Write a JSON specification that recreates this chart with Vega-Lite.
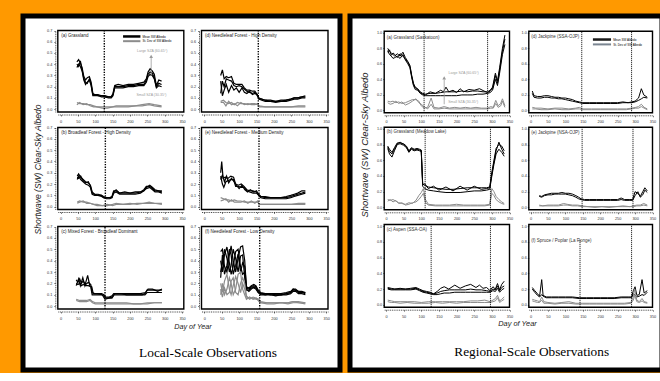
{
"$schema":"https://vega.github.io/schema/vega-lite/v6.json",
"background":"#ff9900",
"padding":{"left":20,"top":13,"right":0,"bottom":0},
"spacing":4,
"config":{
"axis":{"labelFont":"Liberation Sans","labelFontSize":3.8,"labelColor":"#333","tickSize":1.5,"tickWidth":0.5,"tickColor":"#000","domainColor":"#000","domainWidth":0.7,"domainDash":[1,0.8],"grid":false,"labelOverlap":false,"labelFlush":false,"titleFont":"Liberation Sans","titleFontStyle":"italic","titleFontWeight":"normal","titleColor":"#222","titlePadding":0},
"axisX":{"labelPadding":3},
"axisY":{"labelPadding":2},
"text":{"font":"Liberation Sans"},
"view":{"stroke":null}
},
"datasets":{
"La":[
{"s":"m1","d":47,"v":0.42},{"s":"m1","d":52,"v":0.44},{"s":"m1","d":57,"v":0.41},{"s":"m1","d":62,"v":0.37},{"s":"m1","d":67,"v":0.29},{"s":"m1","d":72,"v":0.26},{"s":"m1","d":77,"v":0.28},{"s":"m1","d":83,"v":0.29},{"s":"m1","d":88,"v":0.24},{"s":"m1","d":93,"v":0.14},{"s":"m1","d":98,"v":0.13},{"s":"m1","d":108,"v":0.13},{"s":"m1","d":118,"v":0.12},{"s":"m1","d":128,"v":0.12},{"s":"m1","d":138,"v":0.11},{"s":"m1","d":146,"v":0.11},{"s":"m1","d":151,"v":0.14},{"s":"m1","d":156,"v":0.21},{"s":"m1","d":166,"v":0.22},{"s":"m1","d":180,"v":0.21},{"s":"m1","d":195,"v":0.22},{"s":"m1","d":210,"v":0.22},{"s":"m1","d":225,"v":0.23},{"s":"m1","d":240,"v":0.24},{"s":"m1","d":247,"v":0.27},{"s":"m1","d":252,"v":0.33},{"s":"m1","d":258,"v":0.36},{"s":"m1","d":264,"v":0.34},{"s":"m1","d":270,"v":0.31},{"s":"m1","d":276,"v":0.21},{"s":"m1","d":283,"v":0.26},{"s":"m1","d":291,"v":0.25},
{"s":"m2","d":47,"v":0.37},{"s":"m2","d":52,"v":0.40},{"s":"m2","d":57,"v":0.38},{"s":"m2","d":62,"v":0.34},{"s":"m2","d":67,"v":0.26},{"s":"m2","d":72,"v":0.22},{"s":"m2","d":77,"v":0.24},{"s":"m2","d":83,"v":0.26},{"s":"m2","d":88,"v":0.21},{"s":"m2","d":93,"v":0.12},{"s":"m2","d":98,"v":0.12},{"s":"m2","d":108,"v":0.12},{"s":"m2","d":118,"v":0.11},{"s":"m2","d":128,"v":0.11},{"s":"m2","d":138,"v":0.10},{"s":"m2","d":146,"v":0.10},{"s":"m2","d":151,"v":0.12},{"s":"m2","d":156,"v":0.19},{"s":"m2","d":166,"v":0.19},{"s":"m2","d":180,"v":0.19},{"s":"m2","d":195,"v":0.20},{"s":"m2","d":210,"v":0.20},{"s":"m2","d":225,"v":0.21},{"s":"m2","d":240,"v":0.21},{"s":"m2","d":247,"v":0.24},{"s":"m2","d":252,"v":0.29},{"s":"m2","d":258,"v":0.31},{"s":"m2","d":264,"v":0.30},{"s":"m2","d":270,"v":0.27},{"s":"m2","d":276,"v":0.19},{"s":"m2","d":283,"v":0.21},{"s":"m2","d":291,"v":0.20},
{"s":"m3","d":47,"v":0.40},{"s":"m3","d":52,"v":0.38},{"s":"m3","d":57,"v":0.43},{"s":"m3","d":62,"v":0.35},{"s":"m3","d":67,"v":0.27},{"s":"m3","d":72,"v":0.24},{"s":"m3","d":77,"v":0.23},{"s":"m3","d":83,"v":0.27},{"s":"m3","d":88,"v":0.22},{"s":"m3","d":93,"v":0.13},{"s":"m3","d":98,"v":0.13},{"s":"m3","d":108,"v":0.12},{"s":"m3","d":118,"v":0.12},{"s":"m3","d":128,"v":0.11},{"s":"m3","d":138,"v":0.11},{"s":"m3","d":146,"v":0.11},{"s":"m3","d":151,"v":0.13},{"s":"m3","d":156,"v":0.20},{"s":"m3","d":166,"v":0.20},{"s":"m3","d":180,"v":0.20},{"s":"m3","d":195,"v":0.21},{"s":"m3","d":210,"v":0.21},{"s":"m3","d":225,"v":0.22},{"s":"m3","d":240,"v":0.22},{"s":"m3","d":247,"v":0.26},{"s":"m3","d":252,"v":0.31},{"s":"m3","d":258,"v":0.33},{"s":"m3","d":264,"v":0.32},{"s":"m3","d":270,"v":0.28},{"s":"m3","d":276,"v":0.20},{"s":"m3","d":283,"v":0.23},{"s":"m3","d":291,"v":0.22},
{"s":"s1","d":47,"v":0.06},{"s":"s1","d":55,"v":0.05},{"s":"s1","d":65,"v":0.05},{"s":"s1","d":75,"v":0.04},{"s":"s1","d":85,"v":0.04},{"s":"s1","d":95,"v":0.03},{"s":"s1","d":105,"v":0.02},{"s":"s1","d":120,"v":0.02},{"s":"s1","d":135,"v":0.02},{"s":"s1","d":150,"v":0.02},{"s":"s1","d":160,"v":0.03},{"s":"s1","d":175,"v":0.03},{"s":"s1","d":195,"v":0.03},{"s":"s1","d":215,"v":0.03},{"s":"s1","d":235,"v":0.04},{"s":"s1","d":255,"v":0.05},{"s":"s1","d":270,"v":0.04},{"s":"s1","d":291,"v":0.03},
{"s":"s2","d":47,"v":0.04},{"s":"s2","d":55,"v":0.06},{"s":"s2","d":65,"v":0.04},{"s":"s2","d":75,"v":0.05},{"s":"s2","d":85,"v":0.03},{"s":"s2","d":95,"v":0.02},{"s":"s2","d":105,"v":0.02},{"s":"s2","d":120,"v":0.01},{"s":"s2","d":135,"v":0.01},{"s":"s2","d":150,"v":0.02},{"s":"s2","d":160,"v":0.02},{"s":"s2","d":175,"v":0.02},{"s":"s2","d":195,"v":0.02},{"s":"s2","d":215,"v":0.03},{"s":"s2","d":235,"v":0.03},{"s":"s2","d":255,"v":0.04},{"s":"s2","d":270,"v":0.03},{"s":"s2","d":291,"v":0.02}
],
"Lb":[
{"s":"m1","d":48,"v":0.27},{"s":"m1","d":52,"v":0.29},{"s":"m1","d":58,"v":0.26},{"s":"m1","d":65,"v":0.24},{"s":"m1","d":72,"v":0.22},{"s":"m1","d":80,"v":0.21},{"s":"m1","d":86,"v":0.19},{"s":"m1","d":91,"v":0.13},{"s":"m1","d":98,"v":0.11},{"s":"m1","d":108,"v":0.11},{"s":"m1","d":118,"v":0.10},{"s":"m1","d":124,"v":0.09},{"s":"m1","d":132,"v":0.08},{"s":"m1","d":142,"v":0.08},{"s":"m1","d":148,"v":0.09},{"s":"m1","d":153,"v":0.14},{"s":"m1","d":160,"v":0.14},{"s":"m1","d":170,"v":0.12},{"s":"m1","d":185,"v":0.12},{"s":"m1","d":200,"v":0.12},{"s":"m1","d":215,"v":0.12},{"s":"m1","d":230,"v":0.13},{"s":"m1","d":240,"v":0.15},{"s":"m1","d":247,"v":0.18},{"s":"m1","d":257,"v":0.18},{"s":"m1","d":265,"v":0.16},{"s":"m1","d":272,"v":0.14},{"s":"m1","d":282,"v":0.14},{"s":"m1","d":292,"v":0.13},
{"s":"m2","d":48,"v":0.24},{"s":"m2","d":52,"v":0.27},{"s":"m2","d":58,"v":0.24},{"s":"m2","d":65,"v":0.22},{"s":"m2","d":72,"v":0.20},{"s":"m2","d":80,"v":0.19},{"s":"m2","d":86,"v":0.17},{"s":"m2","d":91,"v":0.11},{"s":"m2","d":98,"v":0.10},{"s":"m2","d":108,"v":0.10},{"s":"m2","d":118,"v":0.09},{"s":"m2","d":124,"v":0.08},{"s":"m2","d":132,"v":0.07},{"s":"m2","d":142,"v":0.07},{"s":"m2","d":148,"v":0.08},{"s":"m2","d":153,"v":0.12},{"s":"m2","d":160,"v":0.13},{"s":"m2","d":170,"v":0.11},{"s":"m2","d":185,"v":0.11},{"s":"m2","d":200,"v":0.11},{"s":"m2","d":215,"v":0.11},{"s":"m2","d":230,"v":0.12},{"s":"m2","d":240,"v":0.14},{"s":"m2","d":247,"v":0.16},{"s":"m2","d":257,"v":0.17},{"s":"m2","d":265,"v":0.15},{"s":"m2","d":272,"v":0.13},{"s":"m2","d":282,"v":0.13},{"s":"m2","d":292,"v":0.12},
{"s":"m3","d":48,"v":0.26},{"s":"m3","d":52,"v":0.25},{"s":"m3","d":58,"v":0.27},{"s":"m3","d":65,"v":0.23},{"s":"m3","d":72,"v":0.21},{"s":"m3","d":80,"v":0.22},{"s":"m3","d":86,"v":0.18},{"s":"m3","d":91,"v":0.12},{"s":"m3","d":98,"v":0.11},{"s":"m3","d":108,"v":0.10},{"s":"m3","d":118,"v":0.10},{"s":"m3","d":124,"v":0.08},{"s":"m3","d":132,"v":0.08},{"s":"m3","d":142,"v":0.08},{"s":"m3","d":148,"v":0.08},{"s":"m3","d":153,"v":0.13},{"s":"m3","d":160,"v":0.15},{"s":"m3","d":170,"v":0.12},{"s":"m3","d":185,"v":0.13},{"s":"m3","d":200,"v":0.12},{"s":"m3","d":215,"v":0.13},{"s":"m3","d":230,"v":0.13},{"s":"m3","d":240,"v":0.14},{"s":"m3","d":247,"v":0.17},{"s":"m3","d":257,"v":0.19},{"s":"m3","d":265,"v":0.17},{"s":"m3","d":272,"v":0.15},{"s":"m3","d":282,"v":0.14},{"s":"m3","d":292,"v":0.14},
{"s":"s1","d":48,"v":0.04},{"s":"s1","d":55,"v":0.05},{"s":"s1","d":65,"v":0.04},{"s":"s1","d":75,"v":0.04},{"s":"s1","d":85,"v":0.03},{"s":"s1","d":95,"v":0.02},{"s":"s1","d":105,"v":0.02},{"s":"s1","d":120,"v":0.01},{"s":"s1","d":135,"v":0.01},{"s":"s1","d":150,"v":0.02},{"s":"s1","d":160,"v":0.03},{"s":"s1","d":180,"v":0.02},{"s":"s1","d":200,"v":0.02},{"s":"s1","d":220,"v":0.03},{"s":"s1","d":240,"v":0.03},{"s":"s1","d":255,"v":0.04},{"s":"s1","d":270,"v":0.03},{"s":"s1","d":292,"v":0.02},
{"s":"s2","d":48,"v":0.03},{"s":"s2","d":55,"v":0.04},{"s":"s2","d":65,"v":0.05},{"s":"s2","d":75,"v":0.03},{"s":"s2","d":85,"v":0.03},{"s":"s2","d":95,"v":0.02},{"s":"s2","d":105,"v":0.01},{"s":"s2","d":120,"v":0.01},{"s":"s2","d":135,"v":0.02},{"s":"s2","d":150,"v":0.01},{"s":"s2","d":160,"v":0.02},{"s":"s2","d":180,"v":0.02},{"s":"s2","d":200,"v":0.03},{"s":"s2","d":220,"v":0.02},{"s":"s2","d":240,"v":0.03},{"s":"s2","d":255,"v":0.03},{"s":"s2","d":270,"v":0.03},{"s":"s2","d":292,"v":0.03}
],
"Lc":[
{"s":"m1","d":45,"v":0.23},{"s":"m1","d":50,"v":0.21},{"s":"m1","d":55,"v":0.24},{"s":"m1","d":60,"v":0.20},{"s":"m1","d":65,"v":0.22},{"s":"m1","d":72,"v":0.19},{"s":"m1","d":80,"v":0.21},{"s":"m1","d":87,"v":0.19},{"s":"m1","d":91,"v":0.12},{"s":"m1","d":98,"v":0.11},{"s":"m1","d":108,"v":0.11},{"s":"m1","d":118,"v":0.11},{"s":"m1","d":125,"v":0.10},{"s":"m1","d":130,"v":0.08},{"s":"m1","d":140,"v":0.08},{"s":"m1","d":148,"v":0.09},{"s":"m1","d":153,"v":0.11},{"s":"m1","d":162,"v":0.11},{"s":"m1","d":175,"v":0.11},{"s":"m1","d":190,"v":0.10},{"s":"m1","d":205,"v":0.10},{"s":"m1","d":220,"v":0.10},{"s":"m1","d":235,"v":0.10},{"s":"m1","d":243,"v":0.11},{"s":"m1","d":249,"v":0.14},{"s":"m1","d":258,"v":0.14},{"s":"m1","d":270,"v":0.14},{"s":"m1","d":280,"v":0.14},{"s":"m1","d":292,"v":0.14},
{"s":"m2","d":45,"v":0.20},{"s":"m2","d":50,"v":0.19},{"s":"m2","d":55,"v":0.20},{"s":"m2","d":60,"v":0.18},{"s":"m2","d":65,"v":0.19},{"s":"m2","d":72,"v":0.18},{"s":"m2","d":80,"v":0.18},{"s":"m2","d":87,"v":0.17},{"s":"m2","d":91,"v":0.10},{"s":"m2","d":98,"v":0.10},{"s":"m2","d":108,"v":0.10},{"s":"m2","d":118,"v":0.10},{"s":"m2","d":125,"v":0.09},{"s":"m2","d":130,"v":0.07},{"s":"m2","d":140,"v":0.07},{"s":"m2","d":148,"v":0.07},{"s":"m2","d":153,"v":0.10},{"s":"m2","d":162,"v":0.10},{"s":"m2","d":175,"v":0.10},{"s":"m2","d":190,"v":0.10},{"s":"m2","d":205,"v":0.10},{"s":"m2","d":220,"v":0.10},{"s":"m2","d":235,"v":0.10},{"s":"m2","d":243,"v":0.10},{"s":"m2","d":249,"v":0.12},{"s":"m2","d":258,"v":0.12},{"s":"m2","d":270,"v":0.12},{"s":"m2","d":280,"v":0.12},{"s":"m2","d":292,"v":0.12},
{"s":"m3","d":45,"v":0.18},{"s":"m3","d":52,"v":0.24},{"s":"m3","d":57,"v":0.18},{"s":"m3","d":64,"v":0.25},{"s":"m3","d":70,"v":0.18},{"s":"m3","d":78,"v":0.27},{"s":"m3","d":84,"v":0.18},{"s":"m3","d":90,"v":0.17},{"s":"m3","d":94,"v":0.11},{"s":"m3","d":105,"v":0.11},{"s":"m3","d":120,"v":0.10},{"s":"m3","d":128,"v":0.06},{"s":"m3","d":138,"v":0.07},{"s":"m3","d":150,"v":0.08},{"s":"m3","d":156,"v":0.11},{"s":"m3","d":170,"v":0.11},{"s":"m3","d":190,"v":0.11},{"s":"m3","d":210,"v":0.11},{"s":"m3","d":230,"v":0.11},{"s":"m3","d":245,"v":0.12},{"s":"m3","d":252,"v":0.15},{"s":"m3","d":265,"v":0.15},{"s":"m3","d":280,"v":0.13},{"s":"m3","d":292,"v":0.15},
{"s":"s1","d":45,"v":0.06},{"s":"s1","d":55,"v":0.05},{"s":"s1","d":65,"v":0.05},{"s":"s1","d":75,"v":0.05},{"s":"s1","d":85,"v":0.06},{"s":"s1","d":92,"v":0.04},{"s":"s1","d":100,"v":0.03},{"s":"s1","d":115,"v":0.03},{"s":"s1","d":130,"v":0.03},{"s":"s1","d":150,"v":0.03},{"s":"s1","d":170,"v":0.03},{"s":"s1","d":190,"v":0.03},{"s":"s1","d":210,"v":0.02},{"s":"s1","d":230,"v":0.02},{"s":"s1","d":250,"v":0.03},{"s":"s1","d":270,"v":0.03},{"s":"s1","d":292,"v":0.03},
{"s":"s2","d":45,"v":0.05},{"s":"s2","d":55,"v":0.04},{"s":"s2","d":65,"v":0.04},{"s":"s2","d":75,"v":0.04},{"s":"s2","d":85,"v":0.05},{"s":"s2","d":92,"v":0.03},{"s":"s2","d":100,"v":0.02},{"s":"s2","d":115,"v":0.02},{"s":"s2","d":130,"v":0.02},{"s":"s2","d":150,"v":0.02},{"s":"s2","d":170,"v":0.02},{"s":"s2","d":190,"v":0.02},{"s":"s2","d":210,"v":0.02},{"s":"s2","d":230,"v":0.02},{"s":"s2","d":250,"v":0.02},{"s":"s2","d":270,"v":0.03},{"s":"s2","d":292,"v":0.03}
],
"Ld":[
{"s":"m1","d":47,"v":0.30},{"s":"m1","d":52,"v":0.35},{"s":"m1","d":57,"v":0.27},{"s":"m1","d":63,"v":0.29},{"s":"m1","d":70,"v":0.28},{"s":"m1","d":78,"v":0.29},{"s":"m1","d":85,"v":0.23},{"s":"m1","d":92,"v":0.22},{"s":"m1","d":100,"v":0.22},{"s":"m1","d":108,"v":0.22},{"s":"m1","d":115,"v":0.19},{"s":"m1","d":122,"v":0.17},{"s":"m1","d":130,"v":0.17},{"s":"m1","d":138,"v":0.16},{"s":"m1","d":145,"v":0.16},{"s":"m1","d":152,"v":0.13},{"s":"m1","d":157,"v":0.10},{"s":"m1","d":165,"v":0.09},{"s":"m1","d":175,"v":0.08},{"s":"m1","d":190,"v":0.07},{"s":"m1","d":205,"v":0.07},{"s":"m1","d":220,"v":0.07},{"s":"m1","d":235,"v":0.08},{"s":"m1","d":248,"v":0.09},{"s":"m1","d":258,"v":0.10},{"s":"m1","d":268,"v":0.10},{"s":"m1","d":280,"v":0.11},{"s":"m1","d":290,"v":0.11},
{"s":"m2","d":47,"v":0.14},{"s":"m2","d":52,"v":0.25},{"s":"m2","d":57,"v":0.20},{"s":"m2","d":63,"v":0.27},{"s":"m2","d":70,"v":0.26},{"s":"m2","d":78,"v":0.25},{"s":"m2","d":85,"v":0.21},{"s":"m2","d":92,"v":0.20},{"s":"m2","d":100,"v":0.21},{"s":"m2","d":108,"v":0.20},{"s":"m2","d":115,"v":0.18},{"s":"m2","d":122,"v":0.16},{"s":"m2","d":130,"v":0.15},{"s":"m2","d":138,"v":0.14},{"s":"m2","d":145,"v":0.15},{"s":"m2","d":152,"v":0.12},{"s":"m2","d":157,"v":0.09},{"s":"m2","d":165,"v":0.08},{"s":"m2","d":175,"v":0.07},{"s":"m2","d":190,"v":0.07},{"s":"m2","d":205,"v":0.06},{"s":"m2","d":220,"v":0.07},{"s":"m2","d":235,"v":0.07},{"s":"m2","d":248,"v":0.08},{"s":"m2","d":258,"v":0.09},{"s":"m2","d":268,"v":0.09},{"s":"m2","d":280,"v":0.10},{"s":"m2","d":290,"v":0.10},
{"s":"m3","d":47,"v":0.25},{"s":"m3","d":52,"v":0.12},{"s":"m3","d":57,"v":0.17},{"s":"m3","d":63,"v":0.22},{"s":"m3","d":70,"v":0.15},{"s":"m3","d":78,"v":0.21},{"s":"m3","d":85,"v":0.17},{"s":"m3","d":92,"v":0.19},{"s":"m3","d":100,"v":0.15},{"s":"m3","d":108,"v":0.19},{"s":"m3","d":115,"v":0.15},{"s":"m3","d":122,"v":0.14},{"s":"m3","d":130,"v":0.16},{"s":"m3","d":138,"v":0.13},{"s":"m3","d":145,"v":0.14},{"s":"m3","d":152,"v":0.13},{"s":"m3","d":157,"v":0.09},{"s":"m3","d":165,"v":0.09},{"s":"m3","d":175,"v":0.08},{"s":"m3","d":190,"v":0.08},{"s":"m3","d":205,"v":0.07},{"s":"m3","d":220,"v":0.08},{"s":"m3","d":235,"v":0.08},{"s":"m3","d":248,"v":0.09},{"s":"m3","d":258,"v":0.10},{"s":"m3","d":268,"v":0.10},{"s":"m3","d":280,"v":0.11},{"s":"m3","d":290,"v":0.12},
{"s":"s1","d":47,"v":0.07},{"s":"s1","d":55,"v":0.08},{"s":"s1","d":62,"v":0.06},{"s":"s1","d":70,"v":0.05},{"s":"s1","d":78,"v":0.06},{"s":"s1","d":86,"v":0.04},{"s":"s1","d":95,"v":0.06},{"s":"s1","d":105,"v":0.05},{"s":"s1","d":115,"v":0.05},{"s":"s1","d":125,"v":0.04},{"s":"s1","d":135,"v":0.05},{"s":"s1","d":145,"v":0.05},{"s":"s1","d":153,"v":0.04},{"s":"s1","d":158,"v":0.03},{"s":"s1","d":175,"v":0.02},{"s":"s1","d":200,"v":0.02},{"s":"s1","d":225,"v":0.02},{"s":"s1","d":250,"v":0.02},{"s":"s1","d":270,"v":0.03},{"s":"s1","d":290,"v":0.03},
{"s":"s2","d":47,"v":0.06},{"s":"s2","d":55,"v":0.06},{"s":"s2","d":62,"v":0.03},{"s":"s2","d":70,"v":0.07},{"s":"s2","d":78,"v":0.04},{"s":"s2","d":86,"v":0.05},{"s":"s2","d":95,"v":0.03},{"s":"s2","d":105,"v":0.06},{"s":"s2","d":115,"v":0.04},{"s":"s2","d":125,"v":0.05},{"s":"s2","d":135,"v":0.04},{"s":"s2","d":145,"v":0.04},{"s":"s2","d":153,"v":0.05},{"s":"s2","d":158,"v":0.02},{"s":"s2","d":175,"v":0.02},{"s":"s2","d":200,"v":0.02},{"s":"s2","d":225,"v":0.02},{"s":"s2","d":250,"v":0.02},{"s":"s2","d":270,"v":0.02},{"s":"s2","d":290,"v":0.02}
],
"Le":[
{"s":"m1","d":47,"v":0.30},{"s":"m1","d":50,"v":0.40},{"s":"m1","d":54,"v":0.25},{"s":"m1","d":60,"v":0.26},{"s":"m1","d":68,"v":0.25},{"s":"m1","d":76,"v":0.27},{"s":"m1","d":84,"v":0.26},{"s":"m1","d":90,"v":0.20},{"s":"m1","d":98,"v":0.19},{"s":"m1","d":106,"v":0.20},{"s":"m1","d":114,"v":0.18},{"s":"m1","d":122,"v":0.15},{"s":"m1","d":130,"v":0.14},{"s":"m1","d":140,"v":0.14},{"s":"m1","d":150,"v":0.13},{"s":"m1","d":156,"v":0.11},{"s":"m1","d":162,"v":0.09},{"s":"m1","d":175,"v":0.08},{"s":"m1","d":190,"v":0.08},{"s":"m1","d":205,"v":0.08},{"s":"m1","d":220,"v":0.08},{"s":"m1","d":235,"v":0.08},{"s":"m1","d":248,"v":0.09},{"s":"m1","d":258,"v":0.10},{"s":"m1","d":268,"v":0.11},{"s":"m1","d":280,"v":0.12},{"s":"m1","d":290,"v":0.13},
{"s":"m2","d":47,"v":0.27},{"s":"m2","d":52,"v":0.20},{"s":"m2","d":56,"v":0.17},{"s":"m2","d":62,"v":0.22},{"s":"m2","d":68,"v":0.23},{"s":"m2","d":76,"v":0.24},{"s":"m2","d":84,"v":0.24},{"s":"m2","d":90,"v":0.18},{"s":"m2","d":98,"v":0.18},{"s":"m2","d":106,"v":0.17},{"s":"m2","d":114,"v":0.17},{"s":"m2","d":122,"v":0.14},{"s":"m2","d":130,"v":0.13},{"s":"m2","d":140,"v":0.12},{"s":"m2","d":150,"v":0.12},{"s":"m2","d":156,"v":0.10},{"s":"m2","d":162,"v":0.08},{"s":"m2","d":175,"v":0.07},{"s":"m2","d":190,"v":0.07},{"s":"m2","d":205,"v":0.07},{"s":"m2","d":220,"v":0.07},{"s":"m2","d":235,"v":0.07},{"s":"m2","d":248,"v":0.08},{"s":"m2","d":258,"v":0.09},{"s":"m2","d":268,"v":0.10},{"s":"m2","d":280,"v":0.11},{"s":"m2","d":290,"v":0.12},
{"s":"m3","d":47,"v":0.24},{"s":"m3","d":52,"v":0.28},{"s":"m3","d":58,"v":0.22},{"s":"m3","d":64,"v":0.27},{"s":"m3","d":70,"v":0.21},{"s":"m3","d":78,"v":0.25},{"s":"m3","d":86,"v":0.22},{"s":"m3","d":92,"v":0.19},{"s":"m3","d":100,"v":0.16},{"s":"m3","d":108,"v":0.19},{"s":"m3","d":116,"v":0.15},{"s":"m3","d":124,"v":0.13},{"s":"m3","d":132,"v":0.15},{"s":"m3","d":142,"v":0.13},{"s":"m3","d":150,"v":0.14},{"s":"m3","d":156,"v":0.10},{"s":"m3","d":162,"v":0.09},{"s":"m3","d":175,"v":0.09},{"s":"m3","d":190,"v":0.08},{"s":"m3","d":205,"v":0.08},{"s":"m3","d":220,"v":0.08},{"s":"m3","d":235,"v":0.09},{"s":"m3","d":248,"v":0.10},{"s":"m3","d":258,"v":0.11},{"s":"m3","d":268,"v":0.12},{"s":"m3","d":280,"v":0.14},{"s":"m3","d":290,"v":0.14},
{"s":"s1","d":47,"v":0.08},{"s":"s1","d":55,"v":0.07},{"s":"s1","d":62,"v":0.06},{"s":"s1","d":70,"v":0.06},{"s":"s1","d":78,"v":0.05},{"s":"s1","d":86,"v":0.06},{"s":"s1","d":95,"v":0.05},{"s":"s1","d":105,"v":0.05},{"s":"s1","d":115,"v":0.04},{"s":"s1","d":125,"v":0.04},{"s":"s1","d":135,"v":0.04},{"s":"s1","d":145,"v":0.04},{"s":"s1","d":153,"v":0.04},{"s":"s1","d":158,"v":0.02},{"s":"s1","d":175,"v":0.02},{"s":"s1","d":200,"v":0.02},{"s":"s1","d":225,"v":0.02},{"s":"s1","d":250,"v":0.02},{"s":"s1","d":270,"v":0.03},{"s":"s1","d":290,"v":0.03},
{"s":"s2","d":47,"v":0.05},{"s":"s2","d":55,"v":0.06},{"s":"s2","d":62,"v":0.07},{"s":"s2","d":70,"v":0.04},{"s":"s2","d":78,"v":0.06},{"s":"s2","d":86,"v":0.04},{"s":"s2","d":95,"v":0.04},{"s":"s2","d":105,"v":0.04},{"s":"s2","d":115,"v":0.05},{"s":"s2","d":125,"v":0.03},{"s":"s2","d":135,"v":0.05},{"s":"s2","d":145,"v":0.03},{"s":"s2","d":153,"v":0.05},{"s":"s2","d":158,"v":0.02},{"s":"s2","d":175,"v":0.02},{"s":"s2","d":200,"v":0.02},{"s":"s2","d":225,"v":0.02},{"s":"s2","d":250,"v":0.02},{"s":"s2","d":270,"v":0.02},{"s":"s2","d":290,"v":0.02}
],
"Lf":[
{"s":"m1","d":47,"v":0.48},{"s":"m1","d":52,"v":0.50},{"s":"m1","d":58,"v":0.35},{"s":"m1","d":65,"v":0.30},{"s":"m1","d":72,"v":0.45},{"s":"m1","d":77,"v":0.53},{"s":"m1","d":83,"v":0.40},{"s":"m1","d":90,"v":0.30},{"s":"m1","d":97,"v":0.42},{"s":"m1","d":104,"v":0.52},{"s":"m1","d":110,"v":0.53},{"s":"m1","d":116,"v":0.40},{"s":"m1","d":121,"v":0.16},{"s":"m1","d":128,"v":0.15},{"s":"m1","d":135,"v":0.17},{"s":"m1","d":142,"v":0.18},{"s":"m1","d":148,"v":0.17},{"s":"m1","d":155,"v":0.13},{"s":"m1","d":162,"v":0.11},{"s":"m1","d":175,"v":0.11},{"s":"m1","d":190,"v":0.10},{"s":"m1","d":205,"v":0.10},{"s":"m1","d":220,"v":0.10},{"s":"m1","d":235,"v":0.11},{"s":"m1","d":248,"v":0.12},{"s":"m1","d":255,"v":0.14},{"s":"m1","d":262,"v":0.14},{"s":"m1","d":270,"v":0.12},{"s":"m1","d":280,"v":0.12},{"s":"m1","d":290,"v":0.11},
{"s":"m2","d":47,"v":0.40},{"s":"m2","d":52,"v":0.30},{"s":"m2","d":58,"v":0.45},{"s":"m2","d":65,"v":0.52},{"s":"m2","d":72,"v":0.38},{"s":"m2","d":77,"v":0.28},{"s":"m2","d":83,"v":0.35},{"s":"m2","d":90,"v":0.48},{"s":"m2","d":97,"v":0.50},{"s":"m2","d":104,"v":0.35},{"s":"m2","d":110,"v":0.28},{"s":"m2","d":116,"v":0.30},{"s":"m2","d":121,"v":0.14},{"s":"m2","d":128,"v":0.14},{"s":"m2","d":135,"v":0.16},{"s":"m2","d":142,"v":0.16},{"s":"m2","d":148,"v":0.15},{"s":"m2","d":155,"v":0.12},{"s":"m2","d":162,"v":0.10},{"s":"m2","d":175,"v":0.10},{"s":"m2","d":190,"v":0.10},{"s":"m2","d":205,"v":0.09},{"s":"m2","d":220,"v":0.10},{"s":"m2","d":235,"v":0.10},{"s":"m2","d":248,"v":0.11},{"s":"m2","d":255,"v":0.13},{"s":"m2","d":262,"v":0.13},{"s":"m2","d":270,"v":0.11},{"s":"m2","d":280,"v":0.11},{"s":"m2","d":290,"v":0.10},
{"s":"m3","d":47,"v":0.30},{"s":"m3","d":52,"v":0.38},{"s":"m3","d":58,"v":0.50},{"s":"m3","d":65,"v":0.42},{"s":"m3","d":72,"v":0.30},{"s":"m3","d":77,"v":0.36},{"s":"m3","d":83,"v":0.50},{"s":"m3","d":90,"v":0.42},{"s":"m3","d":97,"v":0.30},{"s":"m3","d":104,"v":0.44},{"s":"m3","d":110,"v":0.45},{"s":"m3","d":116,"v":0.25},{"s":"m3","d":121,"v":0.15},{"s":"m3","d":128,"v":0.13},{"s":"m3","d":135,"v":0.15},{"s":"m3","d":142,"v":0.17},{"s":"m3","d":148,"v":0.16},{"s":"m3","d":155,"v":0.12},{"s":"m3","d":162,"v":0.11},{"s":"m3","d":175,"v":0.10},{"s":"m3","d":190,"v":0.11},{"s":"m3","d":205,"v":0.10},{"s":"m3","d":220,"v":0.10},{"s":"m3","d":235,"v":0.11},{"s":"m3","d":248,"v":0.12},{"s":"m3","d":255,"v":0.15},{"s":"m3","d":262,"v":0.14},{"s":"m3","d":270,"v":0.13},{"s":"m3","d":280,"v":0.12},{"s":"m3","d":290,"v":0.12},
{"s":"m4","d":47,"v":0.25},{"s":"m4","d":52,"v":0.45},{"s":"m4","d":58,"v":0.28},{"s":"m4","d":65,"v":0.36},{"s":"m4","d":72,"v":0.50},{"s":"m4","d":77,"v":0.45},{"s":"m4","d":83,"v":0.28},{"s":"m4","d":90,"v":0.36},{"s":"m4","d":97,"v":0.46},{"s":"m4","d":104,"v":0.30},{"s":"m4","d":110,"v":0.38},{"s":"m4","d":116,"v":0.35},{"s":"m4","d":121,"v":0.17},{"s":"m4","d":128,"v":0.16},{"s":"m4","d":135,"v":0.18},{"s":"m4","d":142,"v":0.19},{"s":"m4","d":148,"v":0.18},{"s":"m4","d":155,"v":0.14},{"s":"m4","d":162,"v":0.12},{"s":"m4","d":175,"v":0.11},{"s":"m4","d":190,"v":0.11},{"s":"m4","d":205,"v":0.11},{"s":"m4","d":220,"v":0.11},{"s":"m4","d":235,"v":0.12},{"s":"m4","d":248,"v":0.13},{"s":"m4","d":255,"v":0.15},{"s":"m4","d":262,"v":0.15},{"s":"m4","d":270,"v":0.13},{"s":"m4","d":280,"v":0.13},{"s":"m4","d":290,"v":0.12},
{"s":"s1","d":47,"v":0.20},{"s":"s1","d":52,"v":0.12},{"s":"s1","d":58,"v":0.22},{"s":"s1","d":65,"v":0.28},{"s":"s1","d":72,"v":0.15},{"s":"s1","d":77,"v":0.10},{"s":"s1","d":83,"v":0.18},{"s":"s1","d":90,"v":0.26},{"s":"s1","d":97,"v":0.20},{"s":"s1","d":104,"v":0.12},{"s":"s1","d":110,"v":0.20},{"s":"s1","d":116,"v":0.15},{"s":"s1","d":121,"v":0.08},{"s":"s1","d":130,"v":0.07},{"s":"s1","d":140,"v":0.07},{"s":"s1","d":150,"v":0.06},{"s":"s1","d":157,"v":0.05},{"s":"s1","d":162,"v":0.03},{"s":"s1","d":180,"v":0.03},{"s":"s1","d":200,"v":0.03},{"s":"s1","d":220,"v":0.03},{"s":"s1","d":240,"v":0.03},{"s":"s1","d":255,"v":0.04},{"s":"s1","d":270,"v":0.03},{"s":"s1","d":290,"v":0.03},
{"s":"s2","d":47,"v":0.10},{"s":"s2","d":52,"v":0.20},{"s":"s2","d":58,"v":0.10},{"s":"s2","d":65,"v":0.15},{"s":"s2","d":72,"v":0.25},{"s":"s2","d":77,"v":0.20},{"s":"s2","d":83,"v":0.10},{"s":"s2","d":90,"v":0.15},{"s":"s2","d":97,"v":0.28},{"s":"s2","d":104,"v":0.30},{"s":"s2","d":110,"v":0.15},{"s":"s2","d":116,"v":0.10},{"s":"s2","d":121,"v":0.06},{"s":"s2","d":130,"v":0.08},{"s":"s2","d":140,"v":0.06},{"s":"s2","d":150,"v":0.07},{"s":"s2","d":157,"v":0.04},{"s":"s2","d":162,"v":0.03},{"s":"s2","d":180,"v":0.02},{"s":"s2","d":200,"v":0.02},{"s":"s2","d":220,"v":0.03},{"s":"s2","d":240,"v":0.02},{"s":"s2","d":255,"v":0.03},{"s":"s2","d":270,"v":0.03},{"s":"s2","d":290,"v":0.02},
{"s":"s3","d":47,"v":0.15},{"s":"s3","d":52,"v":0.08},{"s":"s3","d":58,"v":0.16},{"s":"s3","d":65,"v":0.10},{"s":"s3","d":72,"v":0.12},{"s":"s3","d":77,"v":0.22},{"s":"s3","d":83,"v":0.25},{"s":"s3","d":90,"v":0.12},{"s":"s3","d":97,"v":0.10},{"s":"s3","d":104,"v":0.20},{"s":"s3","d":110,"v":0.25},{"s":"s3","d":116,"v":0.20},{"s":"s3","d":121,"v":0.09},{"s":"s3","d":130,"v":0.06},{"s":"s3","d":140,"v":0.08},{"s":"s3","d":150,"v":0.07},{"s":"s3","d":157,"v":0.06},{"s":"s3","d":162,"v":0.04},{"s":"s3","d":180,"v":0.03},{"s":"s3","d":200,"v":0.03},{"s":"s3","d":220,"v":0.03},{"s":"s3","d":240,"v":0.03},{"s":"s3","d":255,"v":0.04},{"s":"s3","d":270,"v":0.04},{"s":"s3","d":290,"v":0.03}
],
"Ra":[
{"s":"m1","d":5,"v":0.80},{"s":"m1","d":10,"v":0.76},{"s":"m1","d":15,"v":0.74},{"s":"m1","d":20,"v":0.72},{"s":"m1","d":25,"v":0.70},{"s":"m1","d":32,"v":0.73},{"s":"m1","d":40,"v":0.70},{"s":"m1","d":48,"v":0.75},{"s":"m1","d":55,"v":0.68},{"s":"m1","d":62,"v":0.63},{"s":"m1","d":68,"v":0.58},{"s":"m1","d":73,"v":0.45},{"s":"m1","d":78,"v":0.35},{"s":"m1","d":83,"v":0.30},{"s":"m1","d":90,"v":0.28},{"s":"m1","d":97,"v":0.24},{"s":"m1","d":104,"v":0.22},{"s":"m1","d":112,"v":0.21},{"s":"m1","d":125,"v":0.22},{"s":"m1","d":140,"v":0.22},{"s":"m1","d":155,"v":0.23},{"s":"m1","d":170,"v":0.24},{"s":"m1","d":185,"v":0.24},{"s":"m1","d":200,"v":0.24},{"s":"m1","d":215,"v":0.25},{"s":"m1","d":230,"v":0.24},{"s":"m1","d":245,"v":0.25},{"s":"m1","d":260,"v":0.25},{"s":"m1","d":275,"v":0.24},{"s":"m1","d":288,"v":0.24},{"s":"m1","d":295,"v":0.26},{"s":"m1","d":302,"v":0.30},{"s":"m1","d":310,"v":0.48},{"s":"m1","d":316,"v":0.38},{"s":"m1","d":322,"v":0.55},{"s":"m1","d":330,"v":0.80},{"s":"m1","d":337,"v":0.97},
{"s":"m2","d":5,"v":0.77},{"s":"m2","d":10,"v":0.72},{"s":"m2","d":15,"v":0.70},{"s":"m2","d":20,"v":0.67},{"s":"m2","d":25,"v":0.68},{"s":"m2","d":32,"v":0.70},{"s":"m2","d":40,"v":0.67},{"s":"m2","d":48,"v":0.72},{"s":"m2","d":55,"v":0.65},{"s":"m2","d":62,"v":0.60},{"s":"m2","d":68,"v":0.55},{"s":"m2","d":73,"v":0.42},{"s":"m2","d":78,"v":0.32},{"s":"m2","d":83,"v":0.27},{"s":"m2","d":90,"v":0.26},{"s":"m2","d":97,"v":0.22},{"s":"m2","d":104,"v":0.20},{"s":"m2","d":112,"v":0.19},{"s":"m2","d":125,"v":0.19},{"s":"m2","d":140,"v":0.19},{"s":"m2","d":155,"v":0.19},{"s":"m2","d":170,"v":0.19},{"s":"m2","d":185,"v":0.19},{"s":"m2","d":200,"v":0.19},{"s":"m2","d":215,"v":0.20},{"s":"m2","d":230,"v":0.20},{"s":"m2","d":245,"v":0.20},{"s":"m2","d":260,"v":0.21},{"s":"m2","d":275,"v":0.21},{"s":"m2","d":288,"v":0.22},{"s":"m2","d":295,"v":0.23},{"s":"m2","d":302,"v":0.26},{"s":"m2","d":310,"v":0.40},{"s":"m2","d":316,"v":0.32},{"s":"m2","d":322,"v":0.48},{"s":"m2","d":330,"v":0.72},{"s":"m2","d":337,"v":0.85},
{"s":"m3","d":5,"v":0.75},{"s":"m3","d":10,"v":0.78},{"s":"m3","d":15,"v":0.71},{"s":"m3","d":20,"v":0.74},{"s":"m3","d":25,"v":0.72},{"s":"m3","d":32,"v":0.68},{"s":"m3","d":40,"v":0.73},{"s":"m3","d":48,"v":0.70},{"s":"m3","d":55,"v":0.66},{"s":"m3","d":62,"v":0.62},{"s":"m3","d":68,"v":0.56},{"s":"m3","d":73,"v":0.44},{"s":"m3","d":78,"v":0.33},{"s":"m3","d":83,"v":0.29},{"s":"m3","d":90,"v":0.27},{"s":"m3","d":97,"v":0.23},{"s":"m3","d":104,"v":0.21},{"s":"m3","d":112,"v":0.20},{"s":"m3","d":125,"v":0.24},{"s":"m3","d":140,"v":0.22},{"s":"m3","d":155,"v":0.26},{"s":"m3","d":163,"v":0.24},{"s":"m3","d":170,"v":0.30},{"s":"m3","d":178,"v":0.24},{"s":"m3","d":190,"v":0.26},{"s":"m3","d":200,"v":0.23},{"s":"m3","d":210,"v":0.28},{"s":"m3","d":220,"v":0.24},{"s":"m3","d":235,"v":0.27},{"s":"m3","d":250,"v":0.26},{"s":"m3","d":265,"v":0.28},{"s":"m3","d":278,"v":0.25},{"s":"m3","d":288,"v":0.23},{"s":"m3","d":295,"v":0.25},{"s":"m3","d":302,"v":0.28},{"s":"m3","d":310,"v":0.45},{"s":"m3","d":316,"v":0.35},{"s":"m3","d":322,"v":0.52},{"s":"m3","d":330,"v":0.76},{"s":"m3","d":337,"v":0.92},
{"s":"s1","d":5,"v":0.12},{"s":"s1","d":12,"v":0.11},{"s":"s1","d":20,"v":0.12},{"s":"s1","d":28,"v":0.10},{"s":"s1","d":36,"v":0.11},{"s":"s1","d":45,"v":0.09},{"s":"s1","d":55,"v":0.10},{"s":"s1","d":65,"v":0.12},{"s":"s1","d":75,"v":0.14},{"s":"s1","d":85,"v":0.14},{"s":"s1","d":93,"v":0.12},{"s":"s1","d":100,"v":0.06},{"s":"s1","d":108,"v":0.03},{"s":"s1","d":118,"v":0.04},{"s":"s1","d":128,"v":0.16},{"s":"s1","d":136,"v":0.04},{"s":"s1","d":150,"v":0.03},{"s":"s1","d":165,"v":0.05},{"s":"s1","d":180,"v":0.03},{"s":"s1","d":195,"v":0.04},{"s":"s1","d":210,"v":0.03},{"s":"s1","d":225,"v":0.04},{"s":"s1","d":240,"v":0.03},{"s":"s1","d":255,"v":0.04},{"s":"s1","d":270,"v":0.03},{"s":"s1","d":288,"v":0.03},{"s":"s1","d":297,"v":0.05},{"s":"s1","d":304,"v":0.04},{"s":"s1","d":311,"v":0.13},{"s":"s1","d":318,"v":0.06},{"s":"s1","d":325,"v":0.09},{"s":"s1","d":330,"v":0.15},{"s":"s1","d":337,"v":0.06},
{"s":"s2","d":5,"v":0.10},{"s":"s2","d":12,"v":0.08},{"s":"s2","d":20,"v":0.09},{"s":"s2","d":28,"v":0.12},{"s":"s2","d":36,"v":0.09},{"s":"s2","d":45,"v":0.11},{"s":"s2","d":55,"v":0.07},{"s":"s2","d":65,"v":0.09},{"s":"s2","d":75,"v":0.12},{"s":"s2","d":85,"v":0.15},{"s":"s2","d":93,"v":0.10},{"s":"s2","d":100,"v":0.08},{"s":"s2","d":108,"v":0.05},{"s":"s2","d":118,"v":0.02},{"s":"s2","d":128,"v":0.08},{"s":"s2","d":136,"v":0.02},{"s":"s2","d":150,"v":0.02},{"s":"s2","d":165,"v":0.03},{"s":"s2","d":180,"v":0.02},{"s":"s2","d":195,"v":0.02},{"s":"s2","d":210,"v":0.02},{"s":"s2","d":225,"v":0.02},{"s":"s2","d":240,"v":0.02},{"s":"s2","d":255,"v":0.02},{"s":"s2","d":270,"v":0.02},{"s":"s2","d":288,"v":0.02},{"s":"s2","d":297,"v":0.03},{"s":"s2","d":304,"v":0.03},{"s":"s2","d":311,"v":0.09},{"s":"s2","d":318,"v":0.04},{"s":"s2","d":325,"v":0.06},{"s":"s2","d":330,"v":0.12},{"s":"s2","d":337,"v":0.04}
],
"Rb":[
{"s":"m1","d":5,"v":0.78},{"s":"m1","d":10,"v":0.74},{"s":"m1","d":17,"v":0.70},{"s":"m1","d":24,"v":0.76},{"s":"m1","d":32,"v":0.82},{"s":"m1","d":40,"v":0.82},{"s":"m1","d":50,"v":0.81},{"s":"m1","d":58,"v":0.78},{"s":"m1","d":65,"v":0.72},{"s":"m1","d":72,"v":0.76},{"s":"m1","d":80,"v":0.74},{"s":"m1","d":88,"v":0.75},{"s":"m1","d":95,"v":0.74},{"s":"m1","d":100,"v":0.73},{"s":"m1","d":104,"v":0.30},{"s":"m1","d":110,"v":0.28},{"s":"m1","d":120,"v":0.26},{"s":"m1","d":135,"v":0.25},{"s":"m1","d":150,"v":0.24},{"s":"m1","d":170,"v":0.23},{"s":"m1","d":190,"v":0.23},{"s":"m1","d":210,"v":0.24},{"s":"m1","d":230,"v":0.25},{"s":"m1","d":250,"v":0.25},{"s":"m1","d":270,"v":0.25},{"s":"m1","d":285,"v":0.25},{"s":"m1","d":294,"v":0.26},{"s":"m1","d":300,"v":0.45},{"s":"m1","d":306,"v":0.60},{"s":"m1","d":312,"v":0.75},{"s":"m1","d":320,"v":0.80},{"s":"m1","d":328,"v":0.78},{"s":"m1","d":335,"v":0.72},
{"s":"m2","d":5,"v":0.75},{"s":"m2","d":10,"v":0.68},{"s":"m2","d":17,"v":0.64},{"s":"m2","d":24,"v":0.72},{"s":"m2","d":32,"v":0.80},{"s":"m2","d":40,"v":0.81},{"s":"m2","d":50,"v":0.79},{"s":"m2","d":58,"v":0.76},{"s":"m2","d":65,"v":0.70},{"s":"m2","d":72,"v":0.74},{"s":"m2","d":80,"v":0.72},{"s":"m2","d":88,"v":0.73},{"s":"m2","d":95,"v":0.72},{"s":"m2","d":100,"v":0.71},{"s":"m2","d":104,"v":0.27},{"s":"m2","d":110,"v":0.24},{"s":"m2","d":120,"v":0.22},{"s":"m2","d":135,"v":0.21},{"s":"m2","d":150,"v":0.20},{"s":"m2","d":170,"v":0.19},{"s":"m2","d":190,"v":0.19},{"s":"m2","d":210,"v":0.19},{"s":"m2","d":230,"v":0.20},{"s":"m2","d":250,"v":0.21},{"s":"m2","d":270,"v":0.21},{"s":"m2","d":285,"v":0.22},{"s":"m2","d":294,"v":0.23},{"s":"m2","d":300,"v":0.40},{"s":"m2","d":306,"v":0.55},{"s":"m2","d":312,"v":0.68},{"s":"m2","d":320,"v":0.74},{"s":"m2","d":328,"v":0.70},{"s":"m2","d":335,"v":0.65},
{"s":"m3","d":5,"v":0.77},{"s":"m3","d":10,"v":0.71},{"s":"m3","d":17,"v":0.68},{"s":"m3","d":24,"v":0.74},{"s":"m3","d":32,"v":0.81},{"s":"m3","d":40,"v":0.83},{"s":"m3","d":50,"v":0.80},{"s":"m3","d":58,"v":0.77},{"s":"m3","d":65,"v":0.71},{"s":"m3","d":72,"v":0.75},{"s":"m3","d":80,"v":0.73},{"s":"m3","d":88,"v":0.74},{"s":"m3","d":95,"v":0.73},{"s":"m3","d":100,"v":0.72},{"s":"m3","d":104,"v":0.29},{"s":"m3","d":110,"v":0.30},{"s":"m3","d":120,"v":0.24},{"s":"m3","d":135,"v":0.27},{"s":"m3","d":150,"v":0.22},{"s":"m3","d":170,"v":0.26},{"s":"m3","d":190,"v":0.21},{"s":"m3","d":210,"v":0.27},{"s":"m3","d":230,"v":0.22},{"s":"m3","d":250,"v":0.27},{"s":"m3","d":270,"v":0.23},{"s":"m3","d":285,"v":0.24},{"s":"m3","d":294,"v":0.25},{"s":"m3","d":300,"v":0.42},{"s":"m3","d":306,"v":0.58},{"s":"m3","d":312,"v":0.72},{"s":"m3","d":320,"v":0.83},{"s":"m3","d":328,"v":0.74},{"s":"m3","d":335,"v":0.68},
{"s":"s1","d":5,"v":0.10},{"s":"s1","d":12,"v":0.09},{"s":"s1","d":20,"v":0.10},{"s":"s1","d":28,"v":0.08},{"s":"s1","d":36,"v":0.06},{"s":"s1","d":45,"v":0.05},{"s":"s1","d":55,"v":0.04},{"s":"s1","d":65,"v":0.06},{"s":"s1","d":75,"v":0.05},{"s":"s1","d":85,"v":0.09},{"s":"s1","d":93,"v":0.15},{"s":"s1","d":100,"v":0.19},{"s":"s1","d":106,"v":0.24},{"s":"s1","d":112,"v":0.10},{"s":"s1","d":120,"v":0.04},{"s":"s1","d":140,"v":0.03},{"s":"s1","d":160,"v":0.03},{"s":"s1","d":180,"v":0.03},{"s":"s1","d":200,"v":0.04},{"s":"s1","d":220,"v":0.03},{"s":"s1","d":240,"v":0.03},{"s":"s1","d":260,"v":0.03},{"s":"s1","d":280,"v":0.03},{"s":"s1","d":294,"v":0.04},{"s":"s1","d":300,"v":0.24},{"s":"s1","d":306,"v":0.20},{"s":"s1","d":312,"v":0.14},{"s":"s1","d":320,"v":0.10},{"s":"s1","d":328,"v":0.07},{"s":"s1","d":335,"v":0.05},
{"s":"s2","d":5,"v":0.08},{"s":"s2","d":12,"v":0.10},{"s":"s2","d":20,"v":0.07},{"s":"s2","d":28,"v":0.09},{"s":"s2","d":36,"v":0.05},{"s":"s2","d":45,"v":0.06},{"s":"s2","d":55,"v":0.03},{"s":"s2","d":65,"v":0.04},{"s":"s2","d":75,"v":0.06},{"s":"s2","d":85,"v":0.07},{"s":"s2","d":93,"v":0.10},{"s":"s2","d":100,"v":0.14},{"s":"s2","d":106,"v":0.18},{"s":"s2","d":112,"v":0.06},{"s":"s2","d":120,"v":0.03},{"s":"s2","d":140,"v":0.02},{"s":"s2","d":160,"v":0.02},{"s":"s2","d":180,"v":0.02},{"s":"s2","d":200,"v":0.02},{"s":"s2","d":220,"v":0.02},{"s":"s2","d":240,"v":0.02},{"s":"s2","d":260,"v":0.02},{"s":"s2","d":280,"v":0.02},{"s":"s2","d":294,"v":0.03},{"s":"s2","d":300,"v":0.18},{"s":"s2","d":306,"v":0.15},{"s":"s2","d":312,"v":0.10},{"s":"s2","d":320,"v":0.07},{"s":"s2","d":328,"v":0.05},{"s":"s2","d":335,"v":0.04}
],
"Rc":[
{"s":"m1","d":5,"v":0.21},{"s":"m1","d":15,"v":0.20},{"s":"m1","d":25,"v":0.20},{"s":"m1","d":40,"v":0.20},{"s":"m1","d":55,"v":0.20},{"s":"m1","d":70,"v":0.20},{"s":"m1","d":85,"v":0.21},{"s":"m1","d":95,"v":0.19},{"s":"m1","d":105,"v":0.17},{"s":"m1","d":115,"v":0.16},{"s":"m1","d":125,"v":0.15},{"s":"m1","d":135,"v":0.14},{"s":"m1","d":145,"v":0.15},{"s":"m1","d":155,"v":0.17},{"s":"m1","d":165,"v":0.18},{"s":"m1","d":180,"v":0.19},{"s":"m1","d":195,"v":0.19},{"s":"m1","d":210,"v":0.19},{"s":"m1","d":225,"v":0.19},{"s":"m1","d":240,"v":0.20},{"s":"m1","d":255,"v":0.19},{"s":"m1","d":270,"v":0.19},{"s":"m1","d":285,"v":0.18},{"s":"m1","d":295,"v":0.17},{"s":"m1","d":303,"v":0.20},{"s":"m1","d":310,"v":0.19},{"s":"m1","d":316,"v":0.24},{"s":"m1","d":322,"v":0.18},{"s":"m1","d":328,"v":0.22},{"s":"m1","d":335,"v":0.24},
{"s":"m2","d":5,"v":0.20},{"s":"m2","d":15,"v":0.19},{"s":"m2","d":25,"v":0.19},{"s":"m2","d":40,"v":0.19},{"s":"m2","d":55,"v":0.19},{"s":"m2","d":70,"v":0.19},{"s":"m2","d":85,"v":0.20},{"s":"m2","d":95,"v":0.18},{"s":"m2","d":105,"v":0.16},{"s":"m2","d":115,"v":0.15},{"s":"m2","d":125,"v":0.14},{"s":"m2","d":135,"v":0.13},{"s":"m2","d":145,"v":0.13},{"s":"m2","d":155,"v":0.14},{"s":"m2","d":165,"v":0.15},{"s":"m2","d":180,"v":0.15},{"s":"m2","d":195,"v":0.16},{"s":"m2","d":210,"v":0.16},{"s":"m2","d":225,"v":0.16},{"s":"m2","d":240,"v":0.16},{"s":"m2","d":255,"v":0.16},{"s":"m2","d":270,"v":0.16},{"s":"m2","d":285,"v":0.16},{"s":"m2","d":295,"v":0.16},{"s":"m2","d":303,"v":0.18},{"s":"m2","d":310,"v":0.17},{"s":"m2","d":316,"v":0.21},{"s":"m2","d":322,"v":0.16},{"s":"m2","d":328,"v":0.19},{"s":"m2","d":335,"v":0.21},
{"s":"m3","d":5,"v":0.22},{"s":"m3","d":15,"v":0.21},{"s":"m3","d":25,"v":0.20},{"s":"m3","d":40,"v":0.21},{"s":"m3","d":55,"v":0.20},{"s":"m3","d":70,"v":0.21},{"s":"m3","d":85,"v":0.22},{"s":"m3","d":95,"v":0.20},{"s":"m3","d":105,"v":0.18},{"s":"m3","d":115,"v":0.17},{"s":"m3","d":125,"v":0.16},{"s":"m3","d":135,"v":0.14},{"s":"m3","d":145,"v":0.17},{"s":"m3","d":155,"v":0.21},{"s":"m3","d":165,"v":0.23},{"s":"m3","d":178,"v":0.20},{"s":"m3","d":195,"v":0.25},{"s":"m3","d":210,"v":0.21},{"s":"m3","d":225,"v":0.24},{"s":"m3","d":240,"v":0.26},{"s":"m3","d":255,"v":0.22},{"s":"m3","d":265,"v":0.25},{"s":"m3","d":275,"v":0.21},{"s":"m3","d":285,"v":0.22},{"s":"m3","d":295,"v":0.18},{"s":"m3","d":303,"v":0.23},{"s":"m3","d":310,"v":0.20},{"s":"m3","d":316,"v":0.27},{"s":"m3","d":322,"v":0.19},{"s":"m3","d":328,"v":0.26},{"s":"m3","d":335,"v":0.30},
{"s":"s1","d":5,"v":0.06},{"s":"s1","d":15,"v":0.05},{"s":"s1","d":25,"v":0.04},{"s":"s1","d":40,"v":0.04},{"s":"s1","d":60,"v":0.04},{"s":"s1","d":80,"v":0.04},{"s":"s1","d":100,"v":0.03},{"s":"s1","d":120,"v":0.04},{"s":"s1","d":140,"v":0.04},{"s":"s1","d":160,"v":0.04},{"s":"s1","d":180,"v":0.04},{"s":"s1","d":200,"v":0.04},{"s":"s1","d":220,"v":0.04},{"s":"s1","d":240,"v":0.05},{"s":"s1","d":260,"v":0.05},{"s":"s1","d":280,"v":0.06},{"s":"s1","d":295,"v":0.04},{"s":"s1","d":303,"v":0.06},{"s":"s1","d":310,"v":0.08},{"s":"s1","d":316,"v":0.12},{"s":"s1","d":322,"v":0.05},{"s":"s1","d":328,"v":0.07},{"s":"s1","d":335,"v":0.10},
{"s":"s2","d":5,"v":0.04},{"s":"s2","d":15,"v":0.03},{"s":"s2","d":25,"v":0.03},{"s":"s2","d":40,"v":0.02},{"s":"s2","d":60,"v":0.03},{"s":"s2","d":80,"v":0.02},{"s":"s2","d":100,"v":0.02},{"s":"s2","d":120,"v":0.02},{"s":"s2","d":140,"v":0.03},{"s":"s2","d":160,"v":0.02},{"s":"s2","d":180,"v":0.03},{"s":"s2","d":200,"v":0.02},{"s":"s2","d":220,"v":0.03},{"s":"s2","d":240,"v":0.03},{"s":"s2","d":260,"v":0.03},{"s":"s2","d":280,"v":0.03},{"s":"s2","d":295,"v":0.03},{"s":"s2","d":303,"v":0.04},{"s":"s2","d":310,"v":0.05},{"s":"s2","d":316,"v":0.09},{"s":"s2","d":322,"v":0.03},{"s":"s2","d":328,"v":0.05},{"s":"s2","d":335,"v":0.07}
],
"Rd":[
{"s":"m1","d":5,"v":0.25},{"s":"m1","d":10,"v":0.19},{"s":"m1","d":20,"v":0.18},{"s":"m1","d":30,"v":0.18},{"s":"m1","d":40,"v":0.19},{"s":"m1","d":50,"v":0.19},{"s":"m1","d":60,"v":0.18},{"s":"m1","d":70,"v":0.17},{"s":"m1","d":80,"v":0.17},{"s":"m1","d":90,"v":0.16},{"s":"m1","d":100,"v":0.16},{"s":"m1","d":110,"v":0.15},{"s":"m1","d":120,"v":0.14},{"s":"m1","d":130,"v":0.12},{"s":"m1","d":140,"v":0.11},{"s":"m1","d":150,"v":0.10},{"s":"m1","d":170,"v":0.10},{"s":"m1","d":190,"v":0.10},{"s":"m1","d":210,"v":0.10},{"s":"m1","d":230,"v":0.10},{"s":"m1","d":250,"v":0.10},{"s":"m1","d":265,"v":0.11},{"s":"m1","d":280,"v":0.10},{"s":"m1","d":290,"v":0.11},{"s":"m1","d":300,"v":0.12},{"s":"m1","d":310,"v":0.16},{"s":"m1","d":318,"v":0.28},{"s":"m1","d":325,"v":0.20},{"s":"m1","d":335,"v":0.17},
{"s":"m2","d":5,"v":0.22},{"s":"m2","d":10,"v":0.17},{"s":"m2","d":20,"v":0.16},{"s":"m2","d":30,"v":0.16},{"s":"m2","d":40,"v":0.17},{"s":"m2","d":50,"v":0.17},{"s":"m2","d":60,"v":0.16},{"s":"m2","d":70,"v":0.16},{"s":"m2","d":80,"v":0.15},{"s":"m2","d":90,"v":0.15},{"s":"m2","d":100,"v":0.14},{"s":"m2","d":110,"v":0.13},{"s":"m2","d":120,"v":0.12},{"s":"m2","d":130,"v":0.11},{"s":"m2","d":140,"v":0.10},{"s":"m2","d":150,"v":0.09},{"s":"m2","d":170,"v":0.09},{"s":"m2","d":190,"v":0.09},{"s":"m2","d":210,"v":0.09},{"s":"m2","d":230,"v":0.09},{"s":"m2","d":250,"v":0.09},{"s":"m2","d":265,"v":0.10},{"s":"m2","d":280,"v":0.10},{"s":"m2","d":290,"v":0.10},{"s":"m2","d":300,"v":0.11},{"s":"m2","d":310,"v":0.13},{"s":"m2","d":318,"v":0.15},{"s":"m2","d":325,"v":0.17},{"s":"m2","d":335,"v":0.16},
{"s":"s1","d":5,"v":0.04},{"s":"s1","d":15,"v":0.03},{"s":"s1","d":30,"v":0.03},{"s":"s1","d":50,"v":0.02},{"s":"s1","d":70,"v":0.03},{"s":"s1","d":90,"v":0.03},{"s":"s1","d":110,"v":0.02},{"s":"s1","d":130,"v":0.03},{"s":"s1","d":140,"v":0.04},{"s":"s1","d":150,"v":0.02},{"s":"s1","d":175,"v":0.02},{"s":"s1","d":200,"v":0.02},{"s":"s1","d":225,"v":0.02},{"s":"s1","d":250,"v":0.02},{"s":"s1","d":275,"v":0.02},{"s":"s1","d":290,"v":0.03},{"s":"s1","d":302,"v":0.04},{"s":"s1","d":310,"v":0.05},{"s":"s1","d":318,"v":0.08},{"s":"s1","d":326,"v":0.04},{"s":"s1","d":335,"v":0.02},
{"s":"s2","d":5,"v":0.02},{"s":"s2","d":15,"v":0.02},{"s":"s2","d":30,"v":0.01},{"s":"s2","d":50,"v":0.01},{"s":"s2","d":70,"v":0.02},{"s":"s2","d":90,"v":0.01},{"s":"s2","d":110,"v":0.01},{"s":"s2","d":130,"v":0.02},{"s":"s2","d":140,"v":0.02},{"s":"s2","d":150,"v":0.01},{"s":"s2","d":175,"v":0.01},{"s":"s2","d":200,"v":0.01},{"s":"s2","d":225,"v":0.01},{"s":"s2","d":250,"v":0.01},{"s":"s2","d":275,"v":0.01},{"s":"s2","d":290,"v":0.02},{"s":"s2","d":302,"v":0.03},{"s":"s2","d":310,"v":0.03},{"s":"s2","d":318,"v":0.05},{"s":"s2","d":326,"v":0.03},{"s":"s2","d":335,"v":0.01}
],
"Re":[
{"s":"m1","d":25,"v":0.15},{"s":"m1","d":32,"v":0.14},{"s":"m1","d":40,"v":0.16},{"s":"m1","d":50,"v":0.17},{"s":"m1","d":60,"v":0.18},{"s":"m1","d":70,"v":0.18},{"s":"m1","d":80,"v":0.18},{"s":"m1","d":90,"v":0.19},{"s":"m1","d":100,"v":0.18},{"s":"m1","d":110,"v":0.18},{"s":"m1","d":120,"v":0.17},{"s":"m1","d":130,"v":0.15},{"s":"m1","d":138,"v":0.13},{"s":"m1","d":145,"v":0.11},{"s":"m1","d":155,"v":0.10},{"s":"m1","d":170,"v":0.10},{"s":"m1","d":190,"v":0.10},{"s":"m1","d":210,"v":0.10},{"s":"m1","d":230,"v":0.10},{"s":"m1","d":250,"v":0.10},{"s":"m1","d":260,"v":0.12},{"s":"m1","d":270,"v":0.10},{"s":"m1","d":285,"v":0.10},{"s":"m1","d":293,"v":0.10},{"s":"m1","d":300,"v":0.20},{"s":"m1","d":308,"v":0.18},{"s":"m1","d":315,"v":0.14},{"s":"m1","d":322,"v":0.20},{"s":"m1","d":328,"v":0.25},{"s":"m1","d":335,"v":0.21},
{"s":"m2","d":25,"v":0.14},{"s":"m2","d":32,"v":0.13},{"s":"m2","d":40,"v":0.15},{"s":"m2","d":50,"v":0.16},{"s":"m2","d":60,"v":0.16},{"s":"m2","d":70,"v":0.17},{"s":"m2","d":80,"v":0.17},{"s":"m2","d":90,"v":0.17},{"s":"m2","d":100,"v":0.17},{"s":"m2","d":110,"v":0.16},{"s":"m2","d":120,"v":0.15},{"s":"m2","d":130,"v":0.13},{"s":"m2","d":138,"v":0.11},{"s":"m2","d":145,"v":0.10},{"s":"m2","d":155,"v":0.09},{"s":"m2","d":170,"v":0.09},{"s":"m2","d":190,"v":0.09},{"s":"m2","d":210,"v":0.09},{"s":"m2","d":230,"v":0.09},{"s":"m2","d":250,"v":0.09},{"s":"m2","d":260,"v":0.10},{"s":"m2","d":270,"v":0.09},{"s":"m2","d":285,"v":0.09},{"s":"m2","d":293,"v":0.09},{"s":"m2","d":300,"v":0.15},{"s":"m2","d":308,"v":0.20},{"s":"m2","d":315,"v":0.13},{"s":"m2","d":322,"v":0.16},{"s":"m2","d":328,"v":0.22},{"s":"m2","d":335,"v":0.19},
{"s":"s1","d":25,"v":0.03},{"s":"s1","d":35,"v":0.02},{"s":"s1","d":50,"v":0.03},{"s":"s1","d":65,"v":0.03},{"s":"s1","d":80,"v":0.03},{"s":"s1","d":95,"v":0.05},{"s":"s1","d":105,"v":0.04},{"s":"s1","d":120,"v":0.03},{"s":"s1","d":135,"v":0.03},{"s":"s1","d":148,"v":0.02},{"s":"s1","d":165,"v":0.01},{"s":"s1","d":185,"v":0.01},{"s":"s1","d":205,"v":0.01},{"s":"s1","d":225,"v":0.01},{"s":"s1","d":245,"v":0.01},{"s":"s1","d":265,"v":0.02},{"s":"s1","d":285,"v":0.01},{"s":"s1","d":295,"v":0.02},{"s":"s1","d":305,"v":0.03},{"s":"s1","d":315,"v":0.03},{"s":"s1","d":325,"v":0.05},{"s":"s1","d":335,"v":0.03},
{"s":"s2","d":25,"v":0.02},{"s":"s2","d":35,"v":0.02},{"s":"s2","d":50,"v":0.02},{"s":"s2","d":65,"v":0.02},{"s":"s2","d":80,"v":0.02},{"s":"s2","d":95,"v":0.03},{"s":"s2","d":105,"v":0.03},{"s":"s2","d":120,"v":0.02},{"s":"s2","d":135,"v":0.02},{"s":"s2","d":148,"v":0.01},{"s":"s2","d":165,"v":0.01},{"s":"s2","d":185,"v":0.00},{"s":"s2","d":205,"v":0.01},{"s":"s2","d":225,"v":0.00},{"s":"s2","d":245,"v":0.01},{"s":"s2","d":265,"v":0.01},{"s":"s2","d":285,"v":0.01},{"s":"s2","d":295,"v":0.01},{"s":"s2","d":305,"v":0.02},{"s":"s2","d":315,"v":0.02},{"s":"s2","d":325,"v":0.03},{"s":"s2","d":335,"v":0.02}
],
"Rf":[
{"s":"m1","d":5,"v":0.22},{"s":"m1","d":12,"v":0.18},{"s":"m1","d":20,"v":0.14},{"s":"m1","d":26,"v":0.11},{"s":"m1","d":32,"v":0.32},{"s":"m1","d":36,"v":0.12},{"s":"m1","d":45,"v":0.10},{"s":"m1","d":60,"v":0.10},{"s":"m1","d":80,"v":0.10},{"s":"m1","d":100,"v":0.10},{"s":"m1","d":120,"v":0.10},{"s":"m1","d":140,"v":0.09},{"s":"m1","d":160,"v":0.09},{"s":"m1","d":180,"v":0.09},{"s":"m1","d":200,"v":0.09},{"s":"m1","d":220,"v":0.09},{"s":"m1","d":240,"v":0.09},{"s":"m1","d":260,"v":0.10},{"s":"m1","d":280,"v":0.10},{"s":"m1","d":290,"v":0.10},{"s":"m1","d":295,"v":0.18},{"s":"m1","d":300,"v":0.23},{"s":"m1","d":305,"v":0.12},{"s":"m1","d":312,"v":0.13},{"s":"m1","d":320,"v":0.32},{"s":"m1","d":326,"v":0.15},{"s":"m1","d":335,"v":0.18},
{"s":"m2","d":5,"v":0.20},{"s":"m2","d":12,"v":0.16},{"s":"m2","d":20,"v":0.12},{"s":"m2","d":26,"v":0.10},{"s":"m2","d":32,"v":0.13},{"s":"m2","d":36,"v":0.11},{"s":"m2","d":45,"v":0.09},{"s":"m2","d":60,"v":0.09},{"s":"m2","d":80,"v":0.09},{"s":"m2","d":100,"v":0.09},{"s":"m2","d":120,"v":0.09},{"s":"m2","d":140,"v":0.08},{"s":"m2","d":160,"v":0.08},{"s":"m2","d":180,"v":0.08},{"s":"m2","d":200,"v":0.08},{"s":"m2","d":220,"v":0.08},{"s":"m2","d":240,"v":0.08},{"s":"m2","d":260,"v":0.09},{"s":"m2","d":280,"v":0.09},{"s":"m2","d":290,"v":0.09},{"s":"m2","d":295,"v":0.14},{"s":"m2","d":300,"v":0.12},{"s":"m2","d":305,"v":0.10},{"s":"m2","d":312,"v":0.11},{"s":"m2","d":320,"v":0.13},{"s":"m2","d":326,"v":0.12},{"s":"m2","d":335,"v":0.16},
{"s":"s1","d":5,"v":0.07},{"s":"s1","d":12,"v":0.06},{"s":"s1","d":20,"v":0.05},{"s":"s1","d":26,"v":0.04},{"s":"s1","d":32,"v":0.10},{"s":"s1","d":38,"v":0.04},{"s":"s1","d":50,"v":0.03},{"s":"s1","d":70,"v":0.02},{"s":"s1","d":90,"v":0.03},{"s":"s1","d":110,"v":0.04},{"s":"s1","d":130,"v":0.02},{"s":"s1","d":150,"v":0.02},{"s":"s1","d":170,"v":0.02},{"s":"s1","d":190,"v":0.02},{"s":"s1","d":210,"v":0.02},{"s":"s1","d":230,"v":0.02},{"s":"s1","d":250,"v":0.02},{"s":"s1","d":270,"v":0.02},{"s":"s1","d":288,"v":0.03},{"s":"s1","d":295,"v":0.10},{"s":"s1","d":299,"v":0.20},{"s":"s1","d":305,"v":0.06},{"s":"s1","d":312,"v":0.04},{"s":"s1","d":320,"v":0.08},{"s":"s1","d":326,"v":0.04},{"s":"s1","d":335,"v":0.03},
{"s":"s2","d":5,"v":0.05},{"s":"s2","d":12,"v":0.04},{"s":"s2","d":20,"v":0.03},{"s":"s2","d":26,"v":0.03},{"s":"s2","d":32,"v":0.06},{"s":"s2","d":38,"v":0.02},{"s":"s2","d":50,"v":0.02},{"s":"s2","d":70,"v":0.01},{"s":"s2","d":90,"v":0.02},{"s":"s2","d":110,"v":0.02},{"s":"s2","d":130,"v":0.01},{"s":"s2","d":150,"v":0.01},{"s":"s2","d":170,"v":0.01},{"s":"s2","d":190,"v":0.01},{"s":"s2","d":210,"v":0.01},{"s":"s2","d":230,"v":0.01},{"s":"s2","d":250,"v":0.01},{"s":"s2","d":270,"v":0.01},{"s":"s2","d":288,"v":0.02},{"s":"s2","d":295,"v":0.06},{"s":"s2","d":299,"v":0.12},{"s":"s2","d":305,"v":0.04},{"s":"s2","d":312,"v":0.03},{"s":"s2","d":320,"v":0.05},{"s":"s2","d":326,"v":0.03},{"s":"s2","d":335,"v":0.02}
]
},
"hconcat":[
{
"width":317,"height":354,
"view":{"fill":"white","stroke":"black","strokeWidth":5},
"resolve":{"scale":{"x":"independent","y":"independent"}},
"layer":[
{"data":{"name":"La"},"layer":[
{"mark":{"type":"line","strokeWidth":1.2},"encoding":{
"x":{"field":"d","type":"quantitative","scale":{"domain":[-8,355],"range":[34.8,160.8],"nice":false},"axis":{"orient":"bottom","offset":-255.5,"values":[0,50,100,150,200,250,300,350],"labelOverlap":false,"title":null}},
"y":{"field":"v","type":"quantitative","scale":{"domain":[-0.025,0.7],"range":[96,14.5],"nice":false},"axis":{"orient":"left","offset":-32.3,"values":[0,0.1,0.2,0.3,0.4,0.5,0.6,0.7],"format":".1f","labelOverlap":false,"title":null}},
"color":{"field":"s","type":"nominal","scale":{"domain":["m1","m2","m3","m4","s1","s2","s3"],"range":["#000","#000","#000","#000","#8c8c8c","#8c8c8c","#8c8c8c"]},"legend":null}}},
{"data":{"values":[{}]},"mark":{"type":"rect","filled":false,"stroke":"#000","strokeWidth":1.4},"encoding":{"x":{"datum":-8},"x2":{"datum":355},"y":{"datum":-0.025},"y2":{"datum":0.7}}},
{"data":{"values":[{"d":126}]},"mark":{"type":"rule","strokeDash":[1.3,1.3],"strokeWidth":1.4,"color":"#000"},"encoding":{"x":{"field":"d","type":"quantitative"},"y":{"datum":-0.025},"y2":{"datum":0.7}}},
{"data":{"values":[{}]},"mark":{"type":"text","text":"(a) Grassland","align":"left","baseline":"middle","fontSize":4.5,"color":"#222"},"encoding":{"x":{"datum":2},"y":{"datum":0.655}}},
{"data":{"values":[{}]},"mark":{"type":"rule","strokeWidth":2.5,"color":"#000"},"encoding":{"x":{"datum":180},"x2":{"datum":230},"y":{"datum":0.647}}},
{"data":{"values":[{}]},"mark":{"type":"rule","strokeWidth":2,"color":"#8c8c8c"},"encoding":{"x":{"datum":180},"x2":{"datum":230},"y":{"datum":0.605}}},
{"data":{"values":[{}]},"mark":{"type":"text","text":"Mean SW Albedo","align":"left","baseline":"middle","fontSize":3,"color":"#000"},"encoding":{"x":{"datum":236},"y":{"datum":0.647}}},
{"data":{"values":[{}]},"mark":{"type":"text","text":"St. Dev of SW Albedo","align":"left","baseline":"middle","fontSize":3,"color":"#000"},"encoding":{"x":{"datum":236},"y":{"datum":0.605}}},
{"data":{"values":[{}]},"mark":{"type":"text","text":"Large SZA (60-65°)","align":"center","baseline":"middle","fontSize":3.5,"color":"#9a9a9a"},"encoding":{"x":{"datum":264},"y":{"datum":0.522}}},
{"data":{"values":[{}]},"mark":{"type":"rule","strokeWidth":0.8,"color":"#9a9a9a"},"encoding":{"x":{"datum":261},"y":{"datum":0.30},"y2":{"datum":0.455}}},
{"data":{"values":[{}]},"mark":{"type":"point","shape":"triangle-up","filled":true,"size":14,"color":"#9a9a9a","opacity":1},"encoding":{"x":{"datum":261},"y":{"datum":0.47}}},
{"data":{"values":[{}]},"mark":{"type":"text","text":"Small SZA (30-35°)","align":"center","baseline":"middle","fontSize":3.5,"color":"#9a9a9a"},"encoding":{"x":{"datum":262},"y":{"datum":0.128}}}
]},
{"data":{"name":"Lb"},"layer":[
{"mark":{"type":"line","strokeWidth":1.2},"encoding":{
"x":{"field":"d","type":"quantitative","scale":{"domain":[-8,355],"range":[34.8,160.8],"nice":false},"axis":{"orient":"bottom","offset":-158,"values":[0,50,100,150,200,250,300,350],"labelOverlap":false,"title":null}},
"y":{"field":"v","type":"quantitative","scale":{"domain":[-0.025,0.7],"range":[193.5,111.5],"nice":false},"axis":{"orient":"left","offset":-32.3,"values":[0,0.1,0.2,0.3,0.4,0.5,0.6,0.7],"format":".1f","labelOverlap":false,"title":"Shortwave (SW) Clear-Sky Albedo","titleX":-17.8,"titleY":153,"titleAngle":-90,"titleAlign":"center","titleBaseline":"middle","titleFontSize":8.5}},
"color":{"field":"s","type":"nominal","scale":{"domain":["m1","m2","m3","m4","s1","s2","s3"],"range":["#000","#000","#000","#000","#8c8c8c","#8c8c8c","#8c8c8c"]},"legend":null}}},
{"data":{"values":[{}]},"mark":{"type":"rect","filled":false,"stroke":"#000","strokeWidth":1.4},"encoding":{"x":{"datum":-8},"x2":{"datum":355},"y":{"datum":-0.025},"y2":{"datum":0.7}}},
{"data":{"values":[{"d":129}]},"mark":{"type":"rule","strokeDash":[1.3,1.3],"strokeWidth":1.4,"color":"#000"},"encoding":{"x":{"field":"d","type":"quantitative"},"y":{"datum":-0.025},"y2":{"datum":0.7}}},
{"data":{"values":[{}]},"mark":{"type":"text","text":"(b) Broadleaf Forest - High Density","align":"left","baseline":"middle","fontSize":4.5,"color":"#222"},"encoding":{"x":{"datum":2},"y":{"datum":0.655}}}
]},
{"data":{"name":"Lc"},"layer":[
{"mark":{"type":"line","strokeWidth":1.2},"encoding":{
"x":{"field":"d","type":"quantitative","scale":{"domain":[-8,355],"range":[34.8,160.8],"nice":false},"axis":{"orient":"bottom","offset":-58.5,"values":[0,50,100,150,200,250,300,350],"labelOverlap":false,"title":"Day of Year","titleX":169.5,"titleY":15,"titleAlign":"center","titleBaseline":"middle","titleFontSize":7.2}},
"y":{"field":"v","type":"quantitative","scale":{"domain":[-0.025,0.7],"range":[293,210.5],"nice":false},"axis":{"orient":"left","offset":-32.3,"values":[0,0.1,0.2,0.3,0.4,0.5,0.6,0.7],"format":".1f","labelOverlap":false,"title":null}},
"color":{"field":"s","type":"nominal","scale":{"domain":["m1","m2","m3","m4","s1","s2","s3"],"range":["#000","#000","#000","#000","#8c8c8c","#8c8c8c","#8c8c8c"]},"legend":null}}},
{"data":{"values":[{}]},"mark":{"type":"rect","filled":false,"stroke":"#000","strokeWidth":1.4},"encoding":{"x":{"datum":-8},"x2":{"datum":355},"y":{"datum":-0.025},"y2":{"datum":0.7}}},
{"data":{"values":[{"d":128}]},"mark":{"type":"rule","strokeDash":[1.3,1.3],"strokeWidth":1.4,"color":"#000"},"encoding":{"x":{"field":"d","type":"quantitative"},"y":{"datum":-0.025},"y2":{"datum":0.7}}},
{"data":{"values":[{}]},"mark":{"type":"text","text":"(c) Mixed Forest - Broadleaf Dominant","align":"left","baseline":"middle","fontSize":4.5,"color":"#222"},"encoding":{"x":{"datum":2},"y":{"datum":0.655}}}
]},
{"data":{"name":"Ld"},"layer":[
{"mark":{"type":"line","strokeWidth":1.2},"encoding":{
"x":{"field":"d","type":"quantitative","scale":{"domain":[-8,355],"range":[178.5,305],"nice":false},"axis":{"orient":"bottom","offset":-255.5,"values":[0,50,100,150,200,250,300,350],"labelOverlap":false,"title":null}},
"y":{"field":"v","type":"quantitative","scale":{"domain":[-0.025,0.7],"range":[96,14.5],"nice":false},"axis":{"orient":"left","offset":-176,"values":[0,0.1,0.2,0.3,0.4,0.5,0.6,0.7],"format":".1f","labelOverlap":false,"title":null}},
"color":{"field":"s","type":"nominal","scale":{"domain":["m1","m2","m3","m4","s1","s2","s3"],"range":["#000","#000","#000","#000","#8c8c8c","#8c8c8c","#8c8c8c"]},"legend":null}}},
{"data":{"values":[{}]},"mark":{"type":"rect","filled":false,"stroke":"#000","strokeWidth":1.4},"encoding":{"x":{"datum":-8},"x2":{"datum":355},"y":{"datum":-0.025},"y2":{"datum":0.7}}},
{"data":{"values":[{"d":155}]},"mark":{"type":"rule","strokeDash":[1.3,1.3],"strokeWidth":1.4,"color":"#000"},"encoding":{"x":{"field":"d","type":"quantitative"},"y":{"datum":-0.025},"y2":{"datum":0.7}}},
{"data":{"values":[{}]},"mark":{"type":"text","text":"(d) Needleleaf Forest - High Density","align":"left","baseline":"middle","fontSize":4.5,"color":"#222"},"encoding":{"x":{"datum":2},"y":{"datum":0.655}}}
]},
{"data":{"name":"Le"},"layer":[
{"mark":{"type":"line","strokeWidth":1.2},"encoding":{
"x":{"field":"d","type":"quantitative","scale":{"domain":[-8,355],"range":[178.5,305],"nice":false},"axis":{"orient":"bottom","offset":-158,"values":[0,50,100,150,200,250,300,350],"labelOverlap":false,"title":null}},
"y":{"field":"v","type":"quantitative","scale":{"domain":[-0.025,0.7],"range":[193.5,111.5],"nice":false},"axis":{"orient":"left","offset":-176,"values":[0,0.1,0.2,0.3,0.4,0.5,0.6,0.7],"format":".1f","labelOverlap":false,"title":null}},
"color":{"field":"s","type":"nominal","scale":{"domain":["m1","m2","m3","m4","s1","s2","s3"],"range":["#000","#000","#000","#000","#8c8c8c","#8c8c8c","#8c8c8c"]},"legend":null}}},
{"data":{"values":[{}]},"mark":{"type":"rect","filled":false,"stroke":"#000","strokeWidth":1.4},"encoding":{"x":{"datum":-8},"x2":{"datum":355},"y":{"datum":-0.025},"y2":{"datum":0.7}}},
{"data":{"values":[{"d":157}]},"mark":{"type":"rule","strokeDash":[1.3,1.3],"strokeWidth":1.4,"color":"#000"},"encoding":{"x":{"field":"d","type":"quantitative"},"y":{"datum":-0.025},"y2":{"datum":0.7}}},
{"data":{"values":[{}]},"mark":{"type":"text","text":"(e) Needleleaf Forest - Medium Density","align":"left","baseline":"middle","fontSize":4.5,"color":"#222"},"encoding":{"x":{"datum":2},"y":{"datum":0.655}}}
]},
{"data":{"name":"Lf"},"layer":[
{"mark":{"type":"line","strokeWidth":1.2},"encoding":{
"x":{"field":"d","type":"quantitative","scale":{"domain":[-8,355],"range":[178.5,305],"nice":false},"axis":{"orient":"bottom","offset":-58.5,"values":[0,50,100,150,200,250,300,350],"labelOverlap":false,"title":"Local-Scale Observations","titleX":184.5,"titleY":44.7,"titleAlign":"center","titleBaseline":"alphabetic","titleFont":"Liberation Serif","titleFontStyle":"normal","titleFontSize":13.4,"titleColor":"#000"}},
"y":{"field":"v","type":"quantitative","scale":{"domain":[-0.025,0.7],"range":[293,210.5],"nice":false},"axis":{"orient":"left","offset":-176,"values":[0,0.1,0.2,0.3,0.4,0.5,0.6,0.7],"format":".1f","labelOverlap":false,"title":null}},
"color":{"field":"s","type":"nominal","scale":{"domain":["m1","m2","m3","m4","s1","s2","s3"],"range":["#000","#000","#000","#000","#8c8c8c","#8c8c8c","#8c8c8c"]},"legend":null}}},
{"data":{"values":[{}]},"mark":{"type":"rect","filled":false,"stroke":"#000","strokeWidth":1.4},"encoding":{"x":{"datum":-8},"x2":{"datum":355},"y":{"datum":-0.025},"y2":{"datum":0.7}}},
{"data":{"values":[{"d":159}]},"mark":{"type":"rule","strokeDash":[1.3,1.3],"strokeWidth":1.4,"color":"#000"},"encoding":{"x":{"field":"d","type":"quantitative"},"y":{"datum":-0.025},"y2":{"datum":0.7}}},
{"data":{"values":[{}]},"mark":{"type":"text","text":"(f) Needleleaf Forest - Low Density","align":"left","baseline":"middle","fontSize":4.5,"color":"#222"},"encoding":{"x":{"datum":2},"y":{"datum":0.655}}}
]}
]
},
{
"width":312,"height":354,
"view":{"fill":"white","stroke":"black","strokeWidth":5},
"resolve":{"scale":{"x":"independent","y":"independent"}},
"layer":[
{"data":{"name":"Ra"},"layer":[
{"mark":{"type":"line","strokeWidth":1},"encoding":{
"x":{"field":"d","type":"quantitative","scale":{"domain":[-5,350],"range":[34.2,159.5],"nice":false},"axis":{"orient":"bottom","offset":-254.7,"values":[0,50,100,150,200,250,300,350],"labelOverlap":false,"title":null}},
"y":{"field":"v","type":"quantitative","scale":{"domain":[-0.03,1.02],"range":[96.8,15.2],"nice":false},"axis":{"orient":"left","offset":-34.2,"domain":false,"labelPadding":1,"values":[0,0.1,0.2,0.3,0.4,0.5,0.6,0.7,0.8,0.9,1],"format":".1f","labelOverlap":false,"title":null}},
"color":{"field":"s","type":"nominal","scale":{"domain":["m1","m2","m3","m4","s1","s2","s3"],"range":["#1a1a1a","#1a1a1a","#1a1a1a","#1a1a1a","#7a8591","#7a8591","#7a8591"]},"legend":null}}},
{"data":{"values":[{}]},"mark":{"type":"rect","filled":false,"stroke":"#000","strokeWidth":1.4},"encoding":{"x":{"datum":-5},"x2":{"datum":350},"y":{"datum":-0.03},"y2":{"datum":1.02}}},
{"data":{"values":[{"d":108},{"d":288}]},"mark":{"type":"rule","strokeDash":[1,1],"strokeWidth":1,"color":"#000"},"encoding":{"x":{"field":"d","type":"quantitative"},"y":{"datum":-0.03},"y2":{"datum":1.02}}},
{"data":{"values":[{}]},"mark":{"type":"text","text":"(a) Grassland (Saskatoon)","align":"left","baseline":"middle","fontSize":4.5,"color":"#333"},"encoding":{"x":{"datum":2},"y":{"datum":0.93}}},
{"data":{"values":[{}]},"mark":{"type":"text","text":"Large SZA (60-65°)","align":"center","baseline":"middle","fontSize":3.5,"color":"#9a9a9a"},"encoding":{"x":{"datum":220},"y":{"datum":0.485}}},
{"data":{"values":[{}]},"mark":{"type":"rule","strokeWidth":0.8,"color":"#9a9a9a"},"encoding":{"x":{"datum":165},"y":{"datum":0.08},"y2":{"datum":0.4}}},
{"data":{"values":[{}]},"mark":{"type":"point","shape":"triangle-up","filled":true,"size":14,"color":"#9a9a9a","opacity":1},"encoding":{"x":{"datum":165},"y":{"datum":0.42}}},
{"data":{"values":[{}]},"mark":{"type":"text","text":"Small SZA (30-35°)","align":"center","baseline":"middle","fontSize":3.5,"color":"#9a9a9a"},"encoding":{"x":{"datum":219},"y":{"datum":0.107}}}
]},
{"data":{"name":"Rb"},"layer":[
{"mark":{"type":"line","strokeWidth":1},"encoding":{
"x":{"field":"d","type":"quantitative","scale":{"domain":[-5,350],"range":[34.2,159.5],"nice":false},"axis":{"orient":"bottom","offset":-157.7,"values":[0,50,100,150,200,250,300,350],"labelOverlap":false,"title":null}},
"y":{"field":"v","type":"quantitative","scale":{"domain":[-0.03,1.02],"range":[193.8,111.2],"nice":false},"axis":{"orient":"left","offset":-34.2,"domain":false,"labelPadding":1,"values":[0,0.1,0.2,0.3,0.4,0.5,0.6,0.7,0.8,0.9,1],"format":".1f","labelOverlap":false,"title":"Shortwave (SW) Clear-Sky Albedo","titleX":-19.4,"titleY":128.5,"titleAngle":-90,"titleAlign":"center","titleBaseline":"middle","titleFontSize":9.5}},
"color":{"field":"s","type":"nominal","scale":{"domain":["m1","m2","m3","m4","s1","s2","s3"],"range":["#1a1a1a","#1a1a1a","#1a1a1a","#1a1a1a","#7a8591","#7a8591","#7a8591"]},"legend":null}}},
{"data":{"values":[{}]},"mark":{"type":"rect","filled":false,"stroke":"#000","strokeWidth":1.4},"encoding":{"x":{"datum":-5},"x2":{"datum":350},"y":{"datum":-0.03},"y2":{"datum":1.02}}},
{"data":{"values":[{"d":111},{"d":296}]},"mark":{"type":"rule","strokeDash":[1,1],"strokeWidth":1,"color":"#000"},"encoding":{"x":{"field":"d","type":"quantitative"},"y":{"datum":-0.03},"y2":{"datum":1.02}}},
{"data":{"values":[{}]},"mark":{"type":"text","text":"(b) Grassland (Meadow Lake)","align":"left","baseline":"middle","fontSize":4.5,"color":"#333"},"encoding":{"x":{"datum":2},"y":{"datum":0.955}}}
]},
{"data":{"name":"Rc"},"layer":[
{"mark":{"type":"line","strokeWidth":1},"encoding":{
"x":{"field":"d","type":"quantitative","scale":{"domain":[-5,350],"range":[34.2,159.5],"nice":false},"axis":{"orient":"bottom","offset":-60.3,"values":[0,50,100,150,200,250,300,350],"labelOverlap":false,"title":"Day of Year","titleX":167,"titleY":13.5,"titleAlign":"center","titleBaseline":"middle","titleFontSize":7.4}},
"y":{"field":"v","type":"quantitative","scale":{"domain":[-0.03,1.02],"range":[291.2,208.5],"nice":false},"axis":{"orient":"left","offset":-34.2,"domain":false,"labelPadding":1,"values":[0,0.1,0.2,0.3,0.4,0.5,0.6,0.7,0.8,0.9,1],"format":".1f","labelOverlap":false,"title":null}},
"color":{"field":"s","type":"nominal","scale":{"domain":["m1","m2","m3","m4","s1","s2","s3"],"range":["#1a1a1a","#1a1a1a","#1a1a1a","#1a1a1a","#7a8591","#7a8591","#7a8591"]},"legend":null}}},
{"data":{"values":[{}]},"mark":{"type":"rect","filled":false,"stroke":"#000","strokeWidth":1.4},"encoding":{"x":{"datum":-5},"x2":{"datum":350},"y":{"datum":-0.03},"y2":{"datum":1.02}}},
{"data":{"values":[{"d":128},{"d":296}]},"mark":{"type":"rule","strokeDash":[1,1],"strokeWidth":1,"color":"#000"},"encoding":{"x":{"field":"d","type":"quantitative"},"y":{"datum":-0.03},"y2":{"datum":1.02}}},
{"data":{"values":[{}]},"mark":{"type":"text","text":"(c) Aspen (SSA-OA)","align":"left","baseline":"middle","fontSize":4.5,"color":"#333"},"encoding":{"x":{"datum":2},"y":{"datum":0.955}}}
]},
{"data":{"name":"Rd"},"layer":[
{"mark":{"type":"line","strokeWidth":1},"encoding":{
"x":{"field":"d","type":"quantitative","scale":{"domain":[-5,350],"range":[178.8,302.5],"nice":false},"axis":{"orient":"bottom","offset":-254.7,"values":[0,50,100,150,200,250,300,350],"labelOverlap":false,"title":null}},
"y":{"field":"v","type":"quantitative","scale":{"domain":[-0.03,1.02],"range":[96.8,15.2],"nice":false},"axis":{"orient":"left","offset":-178.8,"domain":false,"labelPadding":1,"values":[0,0.1,0.2,0.3,0.4,0.5,0.6,0.7,0.8,0.9,1],"format":".1f","labelOverlap":false,"title":null}},
"color":{"field":"s","type":"nominal","scale":{"domain":["m1","m2","m3","m4","s1","s2","s3"],"range":["#1a1a1a","#1a1a1a","#1a1a1a","#1a1a1a","#7a8591","#7a8591","#7a8591"]},"legend":null}}},
{"data":{"values":[{}]},"mark":{"type":"rect","filled":false,"stroke":"#000","strokeWidth":1.4},"encoding":{"x":{"datum":-5},"x2":{"datum":350},"y":{"datum":-0.03},"y2":{"datum":1.02}}},
{"data":{"values":[{"d":147},{"d":290}]},"mark":{"type":"rule","strokeDash":[1,1],"strokeWidth":1,"color":"#000"},"encoding":{"x":{"field":"d","type":"quantitative"},"y":{"datum":-0.03},"y2":{"datum":1.02}}},
{"data":{"values":[{}]},"mark":{"type":"text","text":"(d) Jackpine (SSA-OJP)","align":"left","baseline":"middle","fontSize":4.5,"color":"#333"},"encoding":{"x":{"datum":2},"y":{"datum":0.945}}},
{"data":{"values":[{}]},"mark":{"type":"rule","strokeWidth":2.5,"color":"#1a1a1a"},"encoding":{"x":{"datum":179},"x2":{"datum":231},"y":{"datum":0.913}}},
{"data":{"values":[{}]},"mark":{"type":"rule","strokeWidth":2,"color":"#7a8591"},"encoding":{"x":{"datum":179},"x2":{"datum":231},"y":{"datum":0.85}}},
{"data":{"values":[{}]},"mark":{"type":"text","text":"Mean SW Albedo","align":"left","baseline":"middle","fontSize":3,"color":"#000"},"encoding":{"x":{"datum":237},"y":{"datum":0.913}}},
{"data":{"values":[{}]},"mark":{"type":"text","text":"St. Dev of SW Albedo","align":"left","baseline":"middle","fontSize":3,"color":"#000"},"encoding":{"x":{"datum":237},"y":{"datum":0.85}}}
]},
{"data":{"name":"Re"},"layer":[
{"mark":{"type":"line","strokeWidth":1},"encoding":{
"x":{"field":"d","type":"quantitative","scale":{"domain":[-5,350],"range":[178.8,302.5],"nice":false},"axis":{"orient":"bottom","offset":-157.7,"values":[0,50,100,150,200,250,300,350],"labelOverlap":false,"title":null}},
"y":{"field":"v","type":"quantitative","scale":{"domain":[-0.03,1.02],"range":[193.8,111.2],"nice":false},"axis":{"orient":"left","offset":-178.8,"domain":false,"labelPadding":1,"values":[0,0.1,0.2,0.3,0.4,0.5,0.6,0.7,0.8,0.9,1],"format":".1f","labelOverlap":false,"title":null}},
"color":{"field":"s","type":"nominal","scale":{"domain":["m1","m2","m3","m4","s1","s2","s3"],"range":["#1a1a1a","#1a1a1a","#1a1a1a","#1a1a1a","#7a8591","#7a8591","#7a8591"]},"legend":null}}},
{"data":{"values":[{}]},"mark":{"type":"rect","filled":false,"stroke":"#000","strokeWidth":1.4},"encoding":{"x":{"datum":-5},"x2":{"datum":350},"y":{"datum":-0.03},"y2":{"datum":1.02}}},
{"data":{"values":[{"d":148},{"d":294}]},"mark":{"type":"rule","strokeDash":[1,1],"strokeWidth":1,"color":"#000"},"encoding":{"x":{"field":"d","type":"quantitative"},"y":{"datum":-0.03},"y2":{"datum":1.02}}},
{"data":{"values":[{}]},"mark":{"type":"text","text":"(e) Jackpine (NSA-OJP)","align":"left","baseline":"middle","fontSize":4.5,"color":"#333"},"encoding":{"x":{"datum":2},"y":{"datum":0.948}}}
]},
{"data":{"name":"Rf"},"layer":[
{"mark":{"type":"line","strokeWidth":1},"encoding":{
"x":{"field":"d","type":"quantitative","scale":{"domain":[-5,350],"range":[178.8,302.5],"nice":false},"axis":{"orient":"bottom","offset":-60.3,"values":[0,50,100,150,200,250,300,350],"labelOverlap":false,"title":"Regional-Scale Observations","titleX":181.2,"titleY":45.8,"titleAlign":"center","titleBaseline":"alphabetic","titleFont":"Liberation Serif","titleFontStyle":"normal","titleFontSize":13.3,"titleColor":"#000"}},
"y":{"field":"v","type":"quantitative","scale":{"domain":[-0.03,1.02],"range":[291.2,208.5],"nice":false},"axis":{"orient":"left","offset":-178.8,"domain":false,"labelPadding":1,"values":[0,0.1,0.2,0.3,0.4,0.5,0.6,0.7,0.8,0.9,1],"format":".1f","labelOverlap":false,"title":null}},
"color":{"field":"s","type":"nominal","scale":{"domain":["m1","m2","m3","m4","s1","s2","s3"],"range":["#1a1a1a","#1a1a1a","#1a1a1a","#1a1a1a","#7a8591","#7a8591","#7a8591"]},"legend":null}}},
{"data":{"values":[{}]},"mark":{"type":"rect","filled":false,"stroke":"#000","strokeWidth":1.4},"encoding":{"x":{"datum":-5},"x2":{"datum":350},"y":{"datum":-0.03},"y2":{"datum":1.02}}},
{"data":{"values":[{"d":142}]},"mark":{"type":"rule","strokeDash":[1,1],"strokeWidth":1,"color":"#000"},"encoding":{"x":{"field":"d","type":"quantitative"},"y":{"datum":-0.03},"y2":{"datum":0.83}}},
{"data":{"values":[{"d":290}]},"mark":{"type":"rule","strokeDash":[1,1],"strokeWidth":1,"color":"#000"},"encoding":{"x":{"field":"d","type":"quantitative"},"y":{"datum":-0.03},"y2":{"datum":1.02}}},
{"data":{"values":[{}]},"mark":{"type":"text","text":"(f) Spruce / Poplar (La Ronge)","align":"left","baseline":"middle","fontSize":4.5,"color":"#333"},"encoding":{"x":{"datum":2},"y":{"datum":0.806}}}
]}
]
}
]
}
